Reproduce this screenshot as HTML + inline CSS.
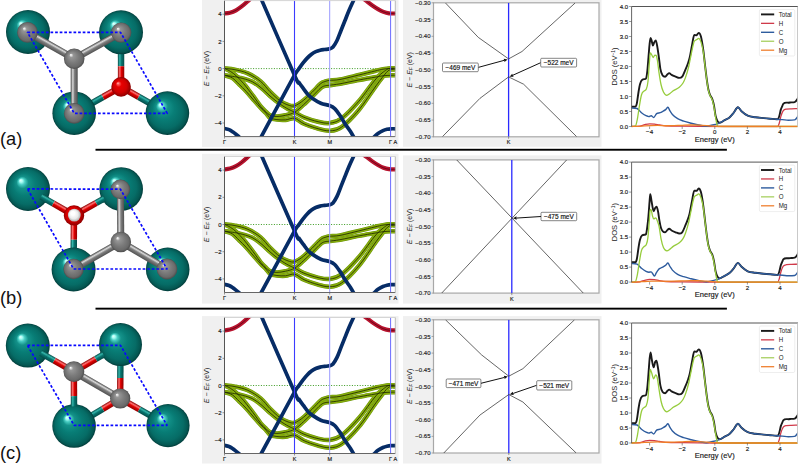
<!DOCTYPE html>
<html><head><meta charset="utf-8"><style>
html,body{margin:0;padding:0;background:#fff;}
svg{display:block;}
text{font-family:"Liberation Sans", sans-serif;}
.t{stroke:#111;stroke-width:0.16px;}
</style></head><body>
<svg width="799" height="465" viewBox="0 0 799 465">
<defs><radialGradient id="sph_teal" cx="0.5" cy="0.5" r="0.5" fx="0.33" fy="0.3"><stop offset="0" stop-color="#eafffc"/><stop offset="0.07" stop-color="#a8fcf4"/><stop offset="0.15" stop-color="#48ccc2"/><stop offset="0.27" stop-color="#14928a"/><stop offset="0.5" stop-color="#087d76"/><stop offset="0.78" stop-color="#066c66"/><stop offset="0.93" stop-color="#045752"/><stop offset="1" stop-color="#023c3a"/></radialGradient><radialGradient id="sph_grey" cx="0.5" cy="0.5" r="0.5" fx="0.33" fy="0.3"><stop offset="0" stop-color="#ffffff"/><stop offset="0.07" stop-color="#e2e2e2"/><stop offset="0.2" stop-color="#969696"/><stop offset="0.55" stop-color="#7c7c7c"/><stop offset="0.85" stop-color="#6a6a6a"/><stop offset="1" stop-color="#4c4c4c"/></radialGradient><radialGradient id="sph_red" cx="0.5" cy="0.5" r="0.5" fx="0.33" fy="0.3"><stop offset="0" stop-color="#ffd0d0"/><stop offset="0.1" stop-color="#ff6060"/><stop offset="0.3" stop-color="#e80000"/><stop offset="0.7" stop-color="#d00000"/><stop offset="1" stop-color="#8a0000"/></radialGradient><radialGradient id="sph_white" cx="0.5" cy="0.5" r="0.5" fx="0.33" fy="0.3"><stop offset="0" stop-color="#ffffff"/><stop offset="0.3" stop-color="#ffffff"/><stop offset="0.7" stop-color="#eaeaea"/><stop offset="1" stop-color="#b0b0b0"/></radialGradient><linearGradient id="bg1" gradientUnits="userSpaceOnUse" x1="117.8" y1="32.31" x2="124.2" y2="32.29"><stop offset="0" stop-color="#024a46"/><stop offset="0.3" stop-color="#34b4aa"/><stop offset="0.55" stop-color="#087670"/><stop offset="1" stop-color="#034c48"/></linearGradient><linearGradient id="bg2" gradientUnits="userSpaceOnUse" x1="117.86" y1="66.16" x2="124.26" y2="66.15"><stop offset="0" stop-color="#8a0000"/><stop offset="0.3" stop-color="#ff7070"/><stop offset="0.55" stop-color="#e00000"/><stop offset="1" stop-color="#900000"/></linearGradient><linearGradient id="bg3" gradientUnits="userSpaceOnUse" x1="119.53" y1="84.11" x2="122.67" y2="89.69"><stop offset="0" stop-color="#8a0000"/><stop offset="0.3" stop-color="#ff7070"/><stop offset="0.55" stop-color="#e00000"/><stop offset="1" stop-color="#900000"/></linearGradient><linearGradient id="bg4" gradientUnits="userSpaceOnUse" x1="101.24" y1="94.37" x2="104.37" y2="99.95"><stop offset="0" stop-color="#024a46"/><stop offset="0.3" stop-color="#34b4aa"/><stop offset="0.55" stop-color="#087670"/><stop offset="1" stop-color="#034c48"/></linearGradient><linearGradient id="bg5" gradientUnits="userSpaceOnUse" x1="122.68" y1="84.11" x2="119.52" y2="89.69"><stop offset="0" stop-color="#8a0000"/><stop offset="0.3" stop-color="#ff7070"/><stop offset="0.55" stop-color="#e00000"/><stop offset="1" stop-color="#900000"/></linearGradient><linearGradient id="bg6" gradientUnits="userSpaceOnUse" x1="140.27" y1="94.07" x2="137.12" y2="99.64"><stop offset="0" stop-color="#024a46"/><stop offset="0.3" stop-color="#34b4aa"/><stop offset="0.55" stop-color="#087670"/><stop offset="1" stop-color="#034c48"/></linearGradient><linearGradient id="bg7" gradientUnits="userSpaceOnUse" x1="29.22" y1="29.35" x2="25.78" y2="35.45"><stop offset="0" stop-color="#454545"/><stop offset="0.3" stop-color="#dadada"/><stop offset="0.55" stop-color="#7e7e7e"/><stop offset="1" stop-color="#505050"/></linearGradient><linearGradient id="bg8" gradientUnits="userSpaceOnUse" x1="72.5" y1="55.74" x2="75.9" y2="61.86"><stop offset="0" stop-color="#454545"/><stop offset="0.3" stop-color="#dadada"/><stop offset="0.55" stop-color="#7e7e7e"/><stop offset="1" stop-color="#505050"/></linearGradient><linearGradient id="bg9" gradientUnits="userSpaceOnUse" x1="70.7" y1="58.8" x2="77.7" y2="58.8"><stop offset="0" stop-color="#454545"/><stop offset="0.3" stop-color="#dadada"/><stop offset="0.55" stop-color="#7e7e7e"/><stop offset="1" stop-color="#505050"/></linearGradient><linearGradient id="bg10" gradientUnits="userSpaceOnUse" x1="29.59" y1="186.22" x2="26.41" y2="191.78"><stop offset="0" stop-color="#024a46"/><stop offset="0.3" stop-color="#34b4aa"/><stop offset="0.55" stop-color="#087670"/><stop offset="1" stop-color="#034c48"/></linearGradient><linearGradient id="bg11" gradientUnits="userSpaceOnUse" x1="54.89" y1="200.74" x2="51.71" y2="206.3"><stop offset="0" stop-color="#8a0000"/><stop offset="0.3" stop-color="#ff7070"/><stop offset="0.55" stop-color="#e00000"/><stop offset="1" stop-color="#900000"/></linearGradient><linearGradient id="bg12" gradientUnits="userSpaceOnUse" x1="72.44" y1="212.61" x2="75.56" y2="218.19"><stop offset="0" stop-color="#8a0000"/><stop offset="0.3" stop-color="#ff7070"/><stop offset="0.55" stop-color="#e00000"/><stop offset="1" stop-color="#900000"/></linearGradient><linearGradient id="bg13" gradientUnits="userSpaceOnUse" x1="94.62" y1="200.2" x2="97.75" y2="205.78"><stop offset="0" stop-color="#024a46"/><stop offset="0.3" stop-color="#34b4aa"/><stop offset="0.55" stop-color="#087670"/><stop offset="1" stop-color="#034c48"/></linearGradient><linearGradient id="bg14" gradientUnits="userSpaceOnUse" x1="70.8" y1="215.38" x2="77.2" y2="215.42"><stop offset="0" stop-color="#8a0000"/><stop offset="0.3" stop-color="#ff7070"/><stop offset="0.55" stop-color="#e00000"/><stop offset="1" stop-color="#900000"/></linearGradient><linearGradient id="bg15" gradientUnits="userSpaceOnUse" x1="70.62" y1="239.72" x2="77.02" y2="239.77"><stop offset="0" stop-color="#024a46"/><stop offset="0.3" stop-color="#34b4aa"/><stop offset="0.55" stop-color="#087670"/><stop offset="1" stop-color="#034c48"/></linearGradient><linearGradient id="bg16" gradientUnits="userSpaceOnUse" x1="42.76" y1="193.78" x2="39.57" y2="199.33"><stop offset="0" stop-color="#024a46"/><stop offset="0.3" stop-color="#34b4aa"/><stop offset="0.55" stop-color="#087670"/><stop offset="1" stop-color="#034c48"/></linearGradient><linearGradient id="bg17" gradientUnits="userSpaceOnUse" x1="102.51" y1="195.78" x2="105.64" y2="201.37"><stop offset="0" stop-color="#024a46"/><stop offset="0.3" stop-color="#34b4aa"/><stop offset="0.55" stop-color="#087670"/><stop offset="1" stop-color="#034c48"/></linearGradient><linearGradient id="bg18" gradientUnits="userSpaceOnUse" x1="116.9" y1="189.43" x2="123.9" y2="189.37"><stop offset="0" stop-color="#454545"/><stop offset="0.3" stop-color="#dadada"/><stop offset="0.55" stop-color="#7e7e7e"/><stop offset="1" stop-color="#505050"/></linearGradient><linearGradient id="bg19" gradientUnits="userSpaceOnUse" x1="119.06" y1="238.96" x2="122.54" y2="245.04"><stop offset="0" stop-color="#454545"/><stop offset="0.3" stop-color="#dadada"/><stop offset="0.55" stop-color="#7e7e7e"/><stop offset="1" stop-color="#505050"/></linearGradient><linearGradient id="bg20" gradientUnits="userSpaceOnUse" x1="122.57" y1="238.98" x2="119.03" y2="245.02"><stop offset="0" stop-color="#454545"/><stop offset="0.3" stop-color="#dadada"/><stop offset="0.55" stop-color="#7e7e7e"/><stop offset="1" stop-color="#505050"/></linearGradient><linearGradient id="bg21" gradientUnits="userSpaceOnUse" x1="75.48" y1="368.92" x2="72.32" y2="374.48"><stop offset="0" stop-color="#8a0000"/><stop offset="0.3" stop-color="#ff7070"/><stop offset="0.55" stop-color="#e00000"/><stop offset="1" stop-color="#900000"/></linearGradient><linearGradient id="bg22" gradientUnits="userSpaceOnUse" x1="55.65" y1="357.69" x2="52.5" y2="363.26"><stop offset="0" stop-color="#024a46"/><stop offset="0.3" stop-color="#34b4aa"/><stop offset="0.55" stop-color="#087670"/><stop offset="1" stop-color="#034c48"/></linearGradient><linearGradient id="bg23" gradientUnits="userSpaceOnUse" x1="72.29" y1="368.93" x2="75.51" y2="374.47"><stop offset="0" stop-color="#8a0000"/><stop offset="0.3" stop-color="#ff7070"/><stop offset="0.55" stop-color="#e00000"/><stop offset="1" stop-color="#900000"/></linearGradient><linearGradient id="bg24" gradientUnits="userSpaceOnUse" x1="94.19" y1="356.2" x2="97.41" y2="361.73"><stop offset="0" stop-color="#024a46"/><stop offset="0.3" stop-color="#34b4aa"/><stop offset="0.55" stop-color="#087670"/><stop offset="1" stop-color="#034c48"/></linearGradient><linearGradient id="bg25" gradientUnits="userSpaceOnUse" x1="70.7" y1="371.71" x2="77.1" y2="371.69"><stop offset="0" stop-color="#8a0000"/><stop offset="0.3" stop-color="#ff7070"/><stop offset="0.55" stop-color="#e00000"/><stop offset="1" stop-color="#900000"/></linearGradient><linearGradient id="bg26" gradientUnits="userSpaceOnUse" x1="70.79" y1="396.15" x2="77.19" y2="396.12"><stop offset="0" stop-color="#024a46"/><stop offset="0.3" stop-color="#34b4aa"/><stop offset="0.55" stop-color="#087670"/><stop offset="1" stop-color="#034c48"/></linearGradient><linearGradient id="bg27" gradientUnits="userSpaceOnUse" x1="117" y1="398.48" x2="123.4" y2="398.52"><stop offset="0" stop-color="#8a0000"/><stop offset="0.3" stop-color="#ff7070"/><stop offset="0.55" stop-color="#e00000"/><stop offset="1" stop-color="#900000"/></linearGradient><linearGradient id="bg28" gradientUnits="userSpaceOnUse" x1="117.11" y1="378" x2="123.51" y2="378.04"><stop offset="0" stop-color="#024a46"/><stop offset="0.3" stop-color="#34b4aa"/><stop offset="0.55" stop-color="#087670"/><stop offset="1" stop-color="#034c48"/></linearGradient><linearGradient id="bg29" gradientUnits="userSpaceOnUse" x1="118.56" y1="395.75" x2="121.84" y2="401.25"><stop offset="0" stop-color="#8a0000"/><stop offset="0.3" stop-color="#ff7070"/><stop offset="0.55" stop-color="#e00000"/><stop offset="1" stop-color="#900000"/></linearGradient><linearGradient id="bg30" gradientUnits="userSpaceOnUse" x1="101.04" y1="406.2" x2="104.32" y2="411.7"><stop offset="0" stop-color="#024a46"/><stop offset="0.3" stop-color="#34b4aa"/><stop offset="0.55" stop-color="#087670"/><stop offset="1" stop-color="#034c48"/></linearGradient><linearGradient id="bg31" gradientUnits="userSpaceOnUse" x1="121.78" y1="395.72" x2="118.62" y2="401.28"><stop offset="0" stop-color="#8a0000"/><stop offset="0.3" stop-color="#ff7070"/><stop offset="0.55" stop-color="#e00000"/><stop offset="1" stop-color="#900000"/></linearGradient><linearGradient id="bg32" gradientUnits="userSpaceOnUse" x1="140.9" y1="406.56" x2="137.74" y2="412.12"><stop offset="0" stop-color="#024a46"/><stop offset="0.3" stop-color="#34b4aa"/><stop offset="0.55" stop-color="#087670"/><stop offset="1" stop-color="#034c48"/></linearGradient><linearGradient id="bg33" gradientUnits="userSpaceOnUse" x1="42.47" y1="350.23" x2="39.32" y2="355.8"><stop offset="0" stop-color="#024a46"/><stop offset="0.3" stop-color="#34b4aa"/><stop offset="0.55" stop-color="#087670"/><stop offset="1" stop-color="#034c48"/></linearGradient><linearGradient id="bg34" gradientUnits="userSpaceOnUse" x1="101.79" y1="351.78" x2="105.01" y2="357.31"><stop offset="0" stop-color="#024a46"/><stop offset="0.3" stop-color="#34b4aa"/><stop offset="0.55" stop-color="#087670"/><stop offset="1" stop-color="#034c48"/></linearGradient><linearGradient id="bg35" gradientUnits="userSpaceOnUse" x1="70.83" y1="406.39" x2="77.23" y2="406.37"><stop offset="0" stop-color="#024a46"/><stop offset="0.3" stop-color="#34b4aa"/><stop offset="0.55" stop-color="#087670"/><stop offset="1" stop-color="#034c48"/></linearGradient><linearGradient id="bg36" gradientUnits="userSpaceOnUse" x1="75.65" y1="368.67" x2="72.15" y2="374.73"><stop offset="0" stop-color="#454545"/><stop offset="0.3" stop-color="#dadada"/><stop offset="0.55" stop-color="#7e7e7e"/><stop offset="1" stop-color="#505050"/></linearGradient><clipPath id="clip37"><rect x="224.5" y="0.6" width="170.8" height="136"/></clipPath><clipPath id="clip38"><rect x="224.5" y="156.5" width="170.8" height="136"/></clipPath><clipPath id="clip39"><rect x="224.5" y="317.5" width="170.8" height="136"/></clipPath><clipPath id="clip40"><rect x="433.5" y="2.8" width="165.5" height="134"/></clipPath><clipPath id="clip41"><rect x="433.5" y="159.9" width="165.5" height="133.2"/></clipPath><clipPath id="clip42"><rect x="433.5" y="319.8" width="165.5" height="133.2"/></clipPath><clipPath id="clip43"><rect x="631.6" y="6.5" width="165.9" height="121"/></clipPath><clipPath id="clip44"><rect x="631.6" y="162.1" width="165.9" height="121"/></clipPath><clipPath id="clip45"><rect x="631.6" y="323" width="165.9" height="121"/></clipPath></defs>
<rect width="799" height="465" fill="#fff"/>
<polygon points="117.8,32.31 117.86,66.16 124.26,66.15 124.2,32.29" fill="url(#bg1)"/>
<polygon points="117.86,66.16 117.9,86.91 124.3,86.89 124.26,66.15" fill="url(#bg2)"/>
<polygon points="119.53,84.11 101.24,94.37 104.37,99.95 122.67,89.69" fill="url(#bg3)"/>
<polygon points="101.24,94.37 72.63,110.41 75.77,115.99 104.37,99.95" fill="url(#bg4)"/>
<polygon points="122.68,84.11 140.27,94.07 137.12,99.64 119.52,89.69" fill="url(#bg5)"/>
<polygon points="140.27,94.07 168.98,110.31 165.82,115.89 137.12,99.64" fill="url(#bg6)"/>
<circle cx="28" cy="32" r="22" fill="url(#sph_teal)"/>
<circle cx="121" cy="32.3" r="22" fill="url(#sph_teal)"/>
<circle cx="74.2" cy="113.2" r="21.8" fill="url(#sph_teal)"/>
<circle cx="167.4" cy="113.1" r="21.8" fill="url(#sph_teal)"/>
<polygon points="29.22,29.35 75.92,55.75 72.48,61.85 25.78,35.45" fill="url(#bg7)"/>
<polygon points="72.5,55.74 119.5,29.54 122.9,35.66 75.9,61.86" fill="url(#bg8)"/>
<polygon points="70.7,58.8 70.7,113.4 77.7,113.4 77.7,58.8" fill="url(#bg9)"/>
<circle cx="27.5" cy="32.4" r="10.4" fill="url(#sph_grey)"/>
<circle cx="121.2" cy="32.6" r="10.2" fill="url(#sph_grey)"/>
<circle cx="74.2" cy="113.4" r="10.3" fill="url(#sph_grey)"/>
<circle cx="74.2" cy="58.8" r="10.3" fill="url(#sph_grey)"/>
<circle cx="121.1" cy="86.9" r="9.8" fill="url(#sph_red)"/>
<path d="M27.5,32.4 L120.5,32.3 L167.2,113.3 L74.2,113.3Z" fill="none" stroke="#0808ff" stroke-width="1.7" stroke-dasharray="2.7 1.9" stroke-linejoin="round"/>
<text x="0" y="144.8" font-size="18.3" fill="#111">(a)</text>
<polygon points="29.59,186.22 54.89,200.74 51.71,206.3 26.41,191.78" fill="url(#bg10)"/>
<polygon points="54.89,200.74 75.59,212.62 72.41,218.18 51.71,206.3" fill="url(#bg11)"/>
<polygon points="72.44,212.61 94.62,200.2 97.75,205.78 75.56,218.19" fill="url(#bg12)"/>
<polygon points="94.62,200.2 119.64,186.21 122.76,191.79 97.75,205.78" fill="url(#bg13)"/>
<polygon points="70.8,215.38 70.62,239.72 77.02,239.77 77.2,215.42" fill="url(#bg14)"/>
<polygon points="70.62,239.72 70.4,269.48 76.8,269.52 77.02,239.77" fill="url(#bg15)"/>
<circle cx="28" cy="189" r="22" fill="url(#sph_teal)"/>
<circle cx="121.2" cy="189" r="21.8" fill="url(#sph_teal)"/>
<circle cx="73.6" cy="269.5" r="22" fill="url(#sph_teal)"/>
<circle cx="167.7" cy="269.4" r="21.8" fill="url(#sph_teal)"/>
<polygon points="42.76,193.78 49.11,197.42 45.92,202.98 39.57,199.33" fill="url(#bg16)"/>
<polygon points="102.51,195.78 100.18,197.09 103.3,202.68 105.64,201.37" fill="url(#bg17)"/>
<polygon points="116.9,189.43 117.3,242.03 124.3,241.97 123.9,189.37" fill="url(#bg18)"/>
<polygon points="119.06,238.96 71.86,265.96 75.34,272.04 122.54,245.04" fill="url(#bg19)"/>
<polygon points="122.57,238.98 168.77,265.98 165.23,272.02 119.03,245.02" fill="url(#bg20)"/>
<circle cx="120.4" cy="189.4" r="9.8" fill="url(#sph_grey)"/>
<circle cx="73.6" cy="269" r="10.2" fill="url(#sph_grey)"/>
<circle cx="167" cy="269" r="10.4" fill="url(#sph_grey)"/>
<circle cx="120.8" cy="242" r="10.3" fill="url(#sph_grey)"/>
<circle cx="74" cy="215.4" r="10.2" fill="url(#sph_red)"/>
<circle cx="74.3" cy="215.1" r="6.4" fill="url(#sph_white)"/>
<path d="M27.5,188.9 L120.4,189.2 L167,269 L73.6,269Z" fill="none" stroke="#0808ff" stroke-width="1.7" stroke-dasharray="2.7 1.9" stroke-linejoin="round"/>
<text x="0" y="304" font-size="18.3" fill="#111">(b)</text>
<polygon points="75.48,368.92 55.65,357.69 52.5,363.26 72.32,374.48" fill="url(#bg21)"/>
<polygon points="55.65,357.69 29.38,342.82 26.22,348.38 52.5,363.26" fill="url(#bg22)"/>
<polygon points="72.29,368.93 94.19,356.2 97.41,361.73 75.51,374.47" fill="url(#bg23)"/>
<polygon points="94.19,356.2 118.89,341.83 122.11,347.37 97.41,361.73" fill="url(#bg24)"/>
<polygon points="70.7,371.71 70.79,396.15 77.19,396.12 77.1,371.69" fill="url(#bg25)"/>
<polygon points="70.79,396.15 70.9,426.01 77.3,425.99 77.19,396.12" fill="url(#bg26)"/>
<polygon points="117,398.48 117.11,378 123.51,378.04 123.4,398.52" fill="url(#bg27)"/>
<polygon points="117.11,378 117.3,344.58 123.7,344.62 123.51,378.04" fill="url(#bg28)"/>
<polygon points="118.56,395.75 101.04,406.2 104.32,411.7 121.84,401.25" fill="url(#bg29)"/>
<polygon points="101.04,406.2 72.46,423.25 75.74,428.75 104.32,411.7" fill="url(#bg30)"/>
<polygon points="121.78,395.72 140.9,406.56 137.74,412.12 118.62,401.28" fill="url(#bg31)"/>
<polygon points="140.9,406.56 169.58,422.82 166.42,428.38 137.74,412.12" fill="url(#bg32)"/>
<circle cx="27.8" cy="345.6" r="22" fill="url(#sph_teal)"/>
<circle cx="120.5" cy="344.6" r="21.5" fill="url(#sph_teal)"/>
<circle cx="74.1" cy="426" r="21.8" fill="url(#sph_teal)"/>
<circle cx="168" cy="425.6" r="21.6" fill="url(#sph_teal)"/>
<polygon points="42.47,350.23 48.52,353.65 45.37,359.22 39.32,355.8" fill="url(#bg33)"/>
<polygon points="101.79,351.78 99.87,352.89 103.09,358.43 105.01,357.31" fill="url(#bg34)"/>
<polygon points="70.83,406.39 70.82,403.71 77.22,403.69 77.23,406.37" fill="url(#bg35)"/>
<polygon points="75.65,368.67 121.95,395.47 118.45,401.53 72.15,374.73" fill="url(#bg36)"/>
<circle cx="73.9" cy="371.7" r="10.4" fill="url(#sph_grey)"/>
<circle cx="120.2" cy="398.5" r="10.1" fill="url(#sph_grey)"/>
<path d="M27.5,345.4 L120.5,345.4 L167,425.3 L74.1,425.3Z" fill="none" stroke="#0808ff" stroke-width="1.7" stroke-dasharray="2.7 1.9" stroke-linejoin="round"/>
<text x="0" y="459.2" font-size="18.3" fill="#111">(c)</text>
<rect x="202" y="0" width="196.5" height="146.9" fill="#f0f0f0"/>
<rect x="224.5" y="0.6" width="170.8" height="136" fill="#fff"/>
<g clip-path="url(#clip37)">
<line x1="224.5" y1="68.6" x2="395.3" y2="68.6" stroke="#3a9a20" stroke-width="1" stroke-dasharray="1 1.6"/>
<path d="M222,13.5C222.42,13.5 223.17,13.63 224.5,13.5C225.83,13.37 228.08,13.23 230,12.7C231.92,12.17 234,11.38 236,10.3C238,9.22 239.95,7.82 242,6.2C244.05,4.58 246.97,1.8 248.3,0.6C249.63,-0.6 249.72,-0.73 250,-1" fill="none" stroke="#b8142f" stroke-width="4.2" stroke-linecap="round"/>
<path d="M222,13.5C222.42,13.5 223.17,13.63 224.5,13.5C225.83,13.37 228.08,13.23 230,12.7C231.92,12.17 234,11.38 236,10.3C238,9.22 239.95,7.82 242,6.2C244.05,4.58 246.97,1.8 248.3,0.6C249.63,-0.6 249.72,-0.73 250,-1" fill="none" stroke="#500010" stroke-width="0.7"/>
<path d="M364,-1C364.33,-0.73 364.67,-0.43 366,0.6C367.33,1.63 370,3.78 372,5.2C374,6.62 376.08,7.98 378,9.1C379.92,10.22 381.67,11.2 383.5,11.9C385.33,12.6 386.75,13.03 389,13.3C391.25,13.57 395.67,13.47 397,13.5" fill="none" stroke="#b8142f" stroke-width="4.2" stroke-linecap="round"/>
<path d="M364,-1C364.33,-0.73 364.67,-0.43 366,0.6C367.33,1.63 370,3.78 372,5.2C374,6.62 376.08,7.98 378,9.1C379.92,10.22 381.67,11.2 383.5,11.9C385.33,12.6 386.75,13.03 389,13.3C391.25,13.57 395.67,13.47 397,13.5" fill="none" stroke="#500010" stroke-width="0.7"/>
<path d="M224.5,68.4C226.23,68.62 231.02,68.87 234.9,69.7C238.78,70.53 243.5,71.43 247.8,73.4C252.1,75.37 257,78.45 260.7,81.5C264.4,84.55 266.78,88.48 270,91.7C273.22,94.92 277,98.58 280,100.8C283,103.02 285.57,104.17 288,105C290.43,105.83 292,106.58 294.6,105.8C297.2,105.02 300.67,102.57 303.6,100.3C306.53,98.03 309.33,94.98 312.2,92.2C315.07,89.42 318.65,85.38 320.8,83.6C322.95,81.82 323.63,82.03 325.1,81.5C326.57,80.97 327.12,80.73 329.6,80.4C332.08,80.07 335.13,80.4 340,79.5C344.87,78.6 352.97,76.42 358.8,75C364.63,73.58 370.97,71.97 375,71C379.03,70.03 380.38,69.63 383,69.2C385.62,68.77 388.65,68.53 390.7,68.4C392.75,68.27 394.53,68.4 395.3,68.4" fill="none" stroke="#6b940c" stroke-width="4.5"/>
<path d="M224.5,75.3C225.52,75.43 228.15,75.72 230.6,76.1C233.05,76.48 235.62,76.68 239.2,77.6C242.78,78.52 248.3,79.78 252.1,81.6C255.9,83.42 259.02,86.1 262,88.5C264.98,90.9 267,93.42 270,96C273,98.58 277,101.83 280,104C283,106.17 285.57,107.63 288,109C290.43,110.37 291.93,110.82 294.6,112.2C297.27,113.58 300.1,115.72 304,117.3C307.9,118.88 313.7,120.73 318,121.7C322.3,122.67 325.87,123.63 329.8,123.1C333.73,122.57 336.77,122.13 341.6,118.5C346.43,114.87 353.07,107.9 358.8,101.3C364.53,94.7 371.4,84.15 376,78.9C380.6,73.65 383.95,71.55 386.4,69.8C388.85,68.05 389.22,68.63 390.7,68.4C392.18,68.17 394.53,68.4 395.3,68.4" fill="none" stroke="#6b940c" stroke-width="4.5"/>
<path d="M224.5,68.4C225.52,68.92 228.58,70.2 230.6,71.5C232.62,72.8 234.45,74.2 236.6,76.2C238.75,78.2 241.2,80.82 243.5,83.5C245.8,86.18 248.42,89.72 250.4,92.3C252.38,94.88 253.67,96.63 255.4,99C257.13,101.37 259.02,104.35 260.8,106.5C262.58,108.65 264.57,110.45 266.1,111.9C267.63,113.35 268.2,114.43 270,115.2C271.8,115.97 274.32,116.48 276.9,116.5C279.48,116.52 282.55,116 285.5,115.3C288.45,114.6 291.58,114.07 294.6,112.3C297.62,110.53 300.67,107.33 303.6,104.7C306.53,102.07 309.33,99.3 312.2,96.5C315.07,93.7 318.65,89.68 320.8,87.9C322.95,86.12 323.63,86.25 325.1,85.8C326.57,85.35 327.12,85.53 329.6,85.2C332.08,84.87 335.13,84.67 340,83.8C344.87,82.93 352.97,81.1 358.8,80C364.63,78.9 370.97,77.9 375,77.2C379.03,76.5 380.38,76.12 383,75.8C385.62,75.48 388.65,75.38 390.7,75.3C392.75,75.22 394.53,75.3 395.3,75.3" fill="none" stroke="#6b940c" stroke-width="4.5"/>
<path d="M224.5,75.3C225.8,75.73 229.85,76.38 232.3,77.9C234.75,79.42 236.9,82.17 239.2,84.4C241.5,86.63 243.67,88.67 246.1,91.3C248.53,93.93 251.35,97.42 253.8,100.2C256.25,102.98 258.75,105.82 260.8,108C262.85,110.18 264.57,111.67 266.1,113.3C267.63,114.93 268.2,116.75 270,117.8C271.8,118.85 274.32,119.25 276.9,119.6C279.48,119.95 282.55,120.12 285.5,119.9C288.45,119.68 291.52,117.65 294.6,118.3C297.68,118.95 300.1,122.07 304,123.8C307.9,125.53 313.7,127.53 318,128.7C322.3,129.87 325.87,131.07 329.8,130.8C333.73,130.53 336.77,130.57 341.6,127.1C346.43,123.63 353.07,116.88 358.8,110C364.53,103.12 371.4,92.05 376,85.8C380.6,79.55 383.95,75.2 386.4,72.5C388.85,69.8 389.22,70.08 390.7,69.6C392.18,69.12 394.53,69.6 395.3,69.6" fill="none" stroke="#6b940c" stroke-width="4.5"/>
<path d="M224.5,68.4C226.23,68.62 231.02,68.87 234.9,69.7C238.78,70.53 243.5,71.43 247.8,73.4C252.1,75.37 257,78.45 260.7,81.5C264.4,84.55 266.78,88.48 270,91.7C273.22,94.92 277,98.58 280,100.8C283,103.02 285.57,104.17 288,105C290.43,105.83 292,106.58 294.6,105.8C297.2,105.02 300.67,102.57 303.6,100.3C306.53,98.03 309.33,94.98 312.2,92.2C315.07,89.42 318.65,85.38 320.8,83.6C322.95,81.82 323.63,82.03 325.1,81.5C326.57,80.97 327.12,80.73 329.6,80.4C332.08,80.07 335.13,80.4 340,79.5C344.87,78.6 352.97,76.42 358.8,75C364.63,73.58 370.97,71.97 375,71C379.03,70.03 380.38,69.63 383,69.2C385.62,68.77 388.65,68.53 390.7,68.4C392.75,68.27 394.53,68.4 395.3,68.4" fill="none" stroke="#88ae0c" stroke-width="3.5"/>
<path d="M224.5,75.3C225.52,75.43 228.15,75.72 230.6,76.1C233.05,76.48 235.62,76.68 239.2,77.6C242.78,78.52 248.3,79.78 252.1,81.6C255.9,83.42 259.02,86.1 262,88.5C264.98,90.9 267,93.42 270,96C273,98.58 277,101.83 280,104C283,106.17 285.57,107.63 288,109C290.43,110.37 291.93,110.82 294.6,112.2C297.27,113.58 300.1,115.72 304,117.3C307.9,118.88 313.7,120.73 318,121.7C322.3,122.67 325.87,123.63 329.8,123.1C333.73,122.57 336.77,122.13 341.6,118.5C346.43,114.87 353.07,107.9 358.8,101.3C364.53,94.7 371.4,84.15 376,78.9C380.6,73.65 383.95,71.55 386.4,69.8C388.85,68.05 389.22,68.63 390.7,68.4C392.18,68.17 394.53,68.4 395.3,68.4" fill="none" stroke="#88ae0c" stroke-width="3.5"/>
<path d="M224.5,68.4C225.52,68.92 228.58,70.2 230.6,71.5C232.62,72.8 234.45,74.2 236.6,76.2C238.75,78.2 241.2,80.82 243.5,83.5C245.8,86.18 248.42,89.72 250.4,92.3C252.38,94.88 253.67,96.63 255.4,99C257.13,101.37 259.02,104.35 260.8,106.5C262.58,108.65 264.57,110.45 266.1,111.9C267.63,113.35 268.2,114.43 270,115.2C271.8,115.97 274.32,116.48 276.9,116.5C279.48,116.52 282.55,116 285.5,115.3C288.45,114.6 291.58,114.07 294.6,112.3C297.62,110.53 300.67,107.33 303.6,104.7C306.53,102.07 309.33,99.3 312.2,96.5C315.07,93.7 318.65,89.68 320.8,87.9C322.95,86.12 323.63,86.25 325.1,85.8C326.57,85.35 327.12,85.53 329.6,85.2C332.08,84.87 335.13,84.67 340,83.8C344.87,82.93 352.97,81.1 358.8,80C364.63,78.9 370.97,77.9 375,77.2C379.03,76.5 380.38,76.12 383,75.8C385.62,75.48 388.65,75.38 390.7,75.3C392.75,75.22 394.53,75.3 395.3,75.3" fill="none" stroke="#88ae0c" stroke-width="3.5"/>
<path d="M224.5,75.3C225.8,75.73 229.85,76.38 232.3,77.9C234.75,79.42 236.9,82.17 239.2,84.4C241.5,86.63 243.67,88.67 246.1,91.3C248.53,93.93 251.35,97.42 253.8,100.2C256.25,102.98 258.75,105.82 260.8,108C262.85,110.18 264.57,111.67 266.1,113.3C267.63,114.93 268.2,116.75 270,117.8C271.8,118.85 274.32,119.25 276.9,119.6C279.48,119.95 282.55,120.12 285.5,119.9C288.45,119.68 291.52,117.65 294.6,118.3C297.68,118.95 300.1,122.07 304,123.8C307.9,125.53 313.7,127.53 318,128.7C322.3,129.87 325.87,131.07 329.8,130.8C333.73,130.53 336.77,130.57 341.6,127.1C346.43,123.63 353.07,116.88 358.8,110C364.53,103.12 371.4,92.05 376,85.8C380.6,79.55 383.95,75.2 386.4,72.5C388.85,69.8 389.22,70.08 390.7,69.6C392.18,69.12 394.53,69.6 395.3,69.6" fill="none" stroke="#88ae0c" stroke-width="3.5"/>
<path d="M224.5,68.4C226.23,68.62 231.02,68.87 234.9,69.7C238.78,70.53 243.5,71.43 247.8,73.4C252.1,75.37 257,78.45 260.7,81.5C264.4,84.55 266.78,88.48 270,91.7C273.22,94.92 277,98.58 280,100.8C283,103.02 285.57,104.17 288,105C290.43,105.83 292,106.58 294.6,105.8C297.2,105.02 300.67,102.57 303.6,100.3C306.53,98.03 309.33,94.98 312.2,92.2C315.07,89.42 318.65,85.38 320.8,83.6C322.95,81.82 323.63,82.03 325.1,81.5C326.57,80.97 327.12,80.73 329.6,80.4C332.08,80.07 335.13,80.4 340,79.5C344.87,78.6 352.97,76.42 358.8,75C364.63,73.58 370.97,71.97 375,71C379.03,70.03 380.38,69.63 383,69.2C385.62,68.77 388.65,68.53 390.7,68.4C392.75,68.27 394.53,68.4 395.3,68.4" fill="none" stroke="#202a00" stroke-width="0.85"/>
<path d="M224.5,75.3C225.52,75.43 228.15,75.72 230.6,76.1C233.05,76.48 235.62,76.68 239.2,77.6C242.78,78.52 248.3,79.78 252.1,81.6C255.9,83.42 259.02,86.1 262,88.5C264.98,90.9 267,93.42 270,96C273,98.58 277,101.83 280,104C283,106.17 285.57,107.63 288,109C290.43,110.37 291.93,110.82 294.6,112.2C297.27,113.58 300.1,115.72 304,117.3C307.9,118.88 313.7,120.73 318,121.7C322.3,122.67 325.87,123.63 329.8,123.1C333.73,122.57 336.77,122.13 341.6,118.5C346.43,114.87 353.07,107.9 358.8,101.3C364.53,94.7 371.4,84.15 376,78.9C380.6,73.65 383.95,71.55 386.4,69.8C388.85,68.05 389.22,68.63 390.7,68.4C392.18,68.17 394.53,68.4 395.3,68.4" fill="none" stroke="#202a00" stroke-width="0.85"/>
<path d="M224.5,68.4C225.52,68.92 228.58,70.2 230.6,71.5C232.62,72.8 234.45,74.2 236.6,76.2C238.75,78.2 241.2,80.82 243.5,83.5C245.8,86.18 248.42,89.72 250.4,92.3C252.38,94.88 253.67,96.63 255.4,99C257.13,101.37 259.02,104.35 260.8,106.5C262.58,108.65 264.57,110.45 266.1,111.9C267.63,113.35 268.2,114.43 270,115.2C271.8,115.97 274.32,116.48 276.9,116.5C279.48,116.52 282.55,116 285.5,115.3C288.45,114.6 291.58,114.07 294.6,112.3C297.62,110.53 300.67,107.33 303.6,104.7C306.53,102.07 309.33,99.3 312.2,96.5C315.07,93.7 318.65,89.68 320.8,87.9C322.95,86.12 323.63,86.25 325.1,85.8C326.57,85.35 327.12,85.53 329.6,85.2C332.08,84.87 335.13,84.67 340,83.8C344.87,82.93 352.97,81.1 358.8,80C364.63,78.9 370.97,77.9 375,77.2C379.03,76.5 380.38,76.12 383,75.8C385.62,75.48 388.65,75.38 390.7,75.3C392.75,75.22 394.53,75.3 395.3,75.3" fill="none" stroke="#202a00" stroke-width="0.85"/>
<path d="M224.5,75.3C225.8,75.73 229.85,76.38 232.3,77.9C234.75,79.42 236.9,82.17 239.2,84.4C241.5,86.63 243.67,88.67 246.1,91.3C248.53,93.93 251.35,97.42 253.8,100.2C256.25,102.98 258.75,105.82 260.8,108C262.85,110.18 264.57,111.67 266.1,113.3C267.63,114.93 268.2,116.75 270,117.8C271.8,118.85 274.32,119.25 276.9,119.6C279.48,119.95 282.55,120.12 285.5,119.9C288.45,119.68 291.52,117.65 294.6,118.3C297.68,118.95 300.1,122.07 304,123.8C307.9,125.53 313.7,127.53 318,128.7C322.3,129.87 325.87,131.07 329.8,130.8C333.73,130.53 336.77,130.57 341.6,127.1C346.43,123.63 353.07,116.88 358.8,110C364.53,103.12 371.4,92.05 376,85.8C380.6,79.55 383.95,75.2 386.4,72.5C388.85,69.8 389.22,70.08 390.7,69.6C392.18,69.12 394.53,69.6 395.3,69.6" fill="none" stroke="#202a00" stroke-width="0.85"/>
<path d="M260.4,-3C260.65,-2.4 256.22,-12.43 261.9,0.6C267.58,13.63 288.32,61.55 294.5,75.2C300.68,88.85 297.48,80.23 299,82.5C300.52,84.77 302.12,86.8 303.6,88.8C305.08,90.8 306.47,92.93 307.9,94.5C309.33,96.07 310.05,96.73 312.2,98.2C314.35,99.67 317.93,102.07 320.8,103.3C323.67,104.53 327.08,104.72 329.4,105.6C331.72,106.48 332.93,106.95 334.7,108.6C336.47,110.25 338.28,112.98 340,115.5C341.72,118.02 343.25,121.03 345,123.7C346.75,126.37 348.92,129.03 350.5,131.5C352.08,133.97 353.83,137.33 354.5,138.5" fill="none" stroke="#062c66" stroke-width="3.7"/>
<path d="M260.3,138.5C260.47,138.18 258.35,142.07 261.3,136.6C264.25,131.13 272.47,115.93 278,105.7C283.53,95.47 291.07,81.28 294.5,75.2C297.93,69.12 297.2,71.2 298.6,69.2C300,67.2 301.47,65.05 302.9,63.2C304.33,61.35 305.77,59.6 307.2,58.1C308.63,56.6 310.07,55.28 311.5,54.2C312.93,53.12 314.37,52.27 315.8,51.6C317.23,50.93 318.67,50.55 320.1,50.2C321.53,49.85 322.85,49.72 324.4,49.5C325.95,49.28 327.97,49.32 329.4,48.9C330.83,48.48 331.73,48.4 333,47C334.27,45.6 335.67,43.25 337,40.5C338.33,37.75 339.67,33.83 341,30.5C342.33,27.17 343.67,23.83 345,20.5C346.33,17.17 347.58,13.82 349,10.5C350.42,7.18 352.58,2.68 353.5,0.6C354.42,-1.48 354.33,-1.57 354.5,-2" fill="none" stroke="#062c66" stroke-width="3.7"/>
<path d="M222,128C222.42,128.08 223.33,128.23 224.5,128.5C225.67,128.77 227.58,129.02 229,129.6C230.42,130.18 231.75,131.15 233,132C234.25,132.85 235.5,133.9 236.5,134.7C237.5,135.5 238.42,136.25 239,136.8C239.58,137.35 239.83,137.8 240,138" fill="none" stroke="#062c66" stroke-width="3.7"/>
<path d="M373,138C373.25,137.77 373.67,137.37 374.5,136.6C375.33,135.83 376.58,134.4 378,133.4C379.42,132.4 381.5,131.28 383,130.6C384.5,129.92 385.72,129.6 387,129.3C388.28,129 389.03,128.88 390.7,128.8C392.37,128.72 395.95,128.8 397,128.8" fill="none" stroke="#062c66" stroke-width="3.7"/>
<line x1="294.5" y1="0.6" x2="294.5" y2="136.6" stroke="#3b3bff" stroke-width="1.1"/>
<line x1="329.7" y1="0.6" x2="329.7" y2="136.6" stroke="#9a9aff" stroke-width="1"/>
<line x1="390.6" y1="0.6" x2="390.6" y2="136.6" stroke="#6a6aff" stroke-width="1"/>
</g>
<line x1="224.5" y1="0.6" x2="224.5" y2="136.6" stroke="#555" stroke-width="1"/>
<line x1="224.5" y1="136.6" x2="395.3" y2="136.6" stroke="#666" stroke-width="1"/>
<line x1="395.3" y1="0.6" x2="395.3" y2="136.6" stroke="#aaa" stroke-width="0.8"/>
<line x1="224.5" y1="0.6" x2="395.3" y2="0.6" stroke="#ccc" stroke-width="0.8"/>
<line x1="222.5" y1="14.2" x2="224.5" y2="14.2" stroke="#555" stroke-width="0.6"/>
<text class="t" x="221.5" y="16.3" font-size="6" text-anchor="end" fill="#222" >4</text>
<line x1="222.5" y1="41.4" x2="224.5" y2="41.4" stroke="#555" stroke-width="0.6"/>
<text class="t" x="221.5" y="43.5" font-size="6" text-anchor="end" fill="#222" >2</text>
<line x1="222.5" y1="68.6" x2="224.5" y2="68.6" stroke="#555" stroke-width="0.6"/>
<text class="t" x="221.5" y="70.7" font-size="6" text-anchor="end" fill="#222" >0</text>
<line x1="222.5" y1="95.8" x2="224.5" y2="95.8" stroke="#555" stroke-width="0.6"/>
<text class="t" x="221.5" y="97.9" font-size="6" text-anchor="end" fill="#222" >&#8722;2</text>
<line x1="222.5" y1="123" x2="224.5" y2="123" stroke="#555" stroke-width="0.6"/>
<text class="t" x="221.5" y="125.1" font-size="6" text-anchor="end" fill="#222" >&#8722;4</text>
<line x1="224.5" y1="136.6" x2="224.5" y2="138.6" stroke="#555" stroke-width="0.6"/>
<text class="t" x="224.5" y="144.1" font-size="5.5" text-anchor="middle" fill="#222" >&#915;</text>
<line x1="294.5" y1="136.6" x2="294.5" y2="138.6" stroke="#555" stroke-width="0.6"/>
<text class="t" x="294.5" y="144.1" font-size="5.5" text-anchor="middle" fill="#222" >K</text>
<line x1="329.7" y1="136.6" x2="329.7" y2="138.6" stroke="#555" stroke-width="0.6"/>
<text class="t" x="329.7" y="144.1" font-size="5.5" text-anchor="middle" fill="#222" >M</text>
<text class="t" x="390.6" y="144.1" font-size="5.5" text-anchor="middle" fill="#222" >&#915;</text>
<text class="t" x="395.3" y="144.1" font-size="5.5" text-anchor="middle" fill="#222" >A</text>
<text transform="translate(208.6,68.6) rotate(-90)" font-size="7" text-anchor="middle" fill="#222"><tspan font-style="italic">E</tspan> &#8722; <tspan font-style="italic">E</tspan><tspan font-size="4.8" dy="1.5" font-style="italic">F</tspan><tspan dy="-1.5"> (eV)</tspan></text>
<rect x="202" y="153.8" width="196.5" height="149.8" fill="#f0f0f0"/>
<rect x="224.5" y="156.5" width="170.8" height="136" fill="#fff"/>
<g clip-path="url(#clip38)">
<line x1="224.5" y1="224.5" x2="395.3" y2="224.5" stroke="#3a9a20" stroke-width="1" stroke-dasharray="1 1.6"/>
<path d="M222,169.4C222.42,169.4 223.17,169.53 224.5,169.4C225.83,169.27 228.08,169.13 230,168.6C231.92,168.07 234,167.28 236,166.2C238,165.12 239.95,163.72 242,162.1C244.05,160.48 246.97,157.7 248.3,156.5C249.63,155.3 249.72,155.17 250,154.9" fill="none" stroke="#b8142f" stroke-width="4.2" stroke-linecap="round"/>
<path d="M222,169.4C222.42,169.4 223.17,169.53 224.5,169.4C225.83,169.27 228.08,169.13 230,168.6C231.92,168.07 234,167.28 236,166.2C238,165.12 239.95,163.72 242,162.1C244.05,160.48 246.97,157.7 248.3,156.5C249.63,155.3 249.72,155.17 250,154.9" fill="none" stroke="#500010" stroke-width="0.7"/>
<path d="M364,154.9C364.33,155.17 364.67,155.47 366,156.5C367.33,157.53 370,159.68 372,161.1C374,162.52 376.08,163.88 378,165C379.92,166.12 381.67,167.1 383.5,167.8C385.33,168.5 386.75,168.93 389,169.2C391.25,169.47 395.67,169.37 397,169.4" fill="none" stroke="#b8142f" stroke-width="4.2" stroke-linecap="round"/>
<path d="M364,154.9C364.33,155.17 364.67,155.47 366,156.5C367.33,157.53 370,159.68 372,161.1C374,162.52 376.08,163.88 378,165C379.92,166.12 381.67,167.1 383.5,167.8C385.33,168.5 386.75,168.93 389,169.2C391.25,169.47 395.67,169.37 397,169.4" fill="none" stroke="#500010" stroke-width="0.7"/>
<path d="M224.5,224.3C226.23,224.52 231.02,224.77 234.9,225.6C238.78,226.43 243.5,227.33 247.8,229.3C252.1,231.27 257,234.35 260.7,237.4C264.4,240.45 266.78,244.38 270,247.6C273.22,250.82 277,254.48 280,256.7C283,258.92 285.57,260.07 288,260.9C290.43,261.73 292,262.48 294.6,261.7C297.2,260.92 300.67,258.47 303.6,256.2C306.53,253.93 309.33,250.88 312.2,248.1C315.07,245.32 318.65,241.28 320.8,239.5C322.95,237.72 323.63,237.93 325.1,237.4C326.57,236.87 327.12,236.63 329.6,236.3C332.08,235.97 335.13,236.3 340,235.4C344.87,234.5 352.97,232.32 358.8,230.9C364.63,229.48 370.97,227.87 375,226.9C379.03,225.93 380.38,225.53 383,225.1C385.62,224.67 388.65,224.43 390.7,224.3C392.75,224.17 394.53,224.3 395.3,224.3" fill="none" stroke="#6b940c" stroke-width="4.5"/>
<path d="M224.5,231.2C225.52,231.33 228.15,231.62 230.6,232C233.05,232.38 235.62,232.58 239.2,233.5C242.78,234.42 248.3,235.68 252.1,237.5C255.9,239.32 259.02,242 262,244.4C264.98,246.8 267,249.32 270,251.9C273,254.48 277,257.73 280,259.9C283,262.07 285.57,263.53 288,264.9C290.43,266.27 291.93,266.72 294.6,268.1C297.27,269.48 300.1,271.62 304,273.2C307.9,274.78 313.7,276.63 318,277.6C322.3,278.57 325.87,279.53 329.8,279C333.73,278.47 336.77,278.03 341.6,274.4C346.43,270.77 353.07,263.8 358.8,257.2C364.53,250.6 371.4,240.05 376,234.8C380.6,229.55 383.95,227.45 386.4,225.7C388.85,223.95 389.22,224.53 390.7,224.3C392.18,224.07 394.53,224.3 395.3,224.3" fill="none" stroke="#6b940c" stroke-width="4.5"/>
<path d="M224.5,224.3C225.52,224.82 228.58,226.1 230.6,227.4C232.62,228.7 234.45,230.1 236.6,232.1C238.75,234.1 241.2,236.72 243.5,239.4C245.8,242.08 248.42,245.62 250.4,248.2C252.38,250.78 253.67,252.53 255.4,254.9C257.13,257.27 259.02,260.25 260.8,262.4C262.58,264.55 264.57,266.35 266.1,267.8C267.63,269.25 268.2,270.33 270,271.1C271.8,271.87 274.32,272.38 276.9,272.4C279.48,272.42 282.55,271.9 285.5,271.2C288.45,270.5 291.58,269.97 294.6,268.2C297.62,266.43 300.67,263.23 303.6,260.6C306.53,257.97 309.33,255.2 312.2,252.4C315.07,249.6 318.65,245.58 320.8,243.8C322.95,242.02 323.63,242.15 325.1,241.7C326.57,241.25 327.12,241.43 329.6,241.1C332.08,240.77 335.13,240.57 340,239.7C344.87,238.83 352.97,237 358.8,235.9C364.63,234.8 370.97,233.8 375,233.1C379.03,232.4 380.38,232.02 383,231.7C385.62,231.38 388.65,231.28 390.7,231.2C392.75,231.12 394.53,231.2 395.3,231.2" fill="none" stroke="#6b940c" stroke-width="4.5"/>
<path d="M224.5,231.2C225.8,231.63 229.85,232.28 232.3,233.8C234.75,235.32 236.9,238.07 239.2,240.3C241.5,242.53 243.67,244.57 246.1,247.2C248.53,249.83 251.35,253.32 253.8,256.1C256.25,258.88 258.75,261.72 260.8,263.9C262.85,266.08 264.57,267.57 266.1,269.2C267.63,270.83 268.2,272.65 270,273.7C271.8,274.75 274.32,275.15 276.9,275.5C279.48,275.85 282.55,276.02 285.5,275.8C288.45,275.58 291.52,273.55 294.6,274.2C297.68,274.85 300.1,277.97 304,279.7C307.9,281.43 313.7,283.43 318,284.6C322.3,285.77 325.87,286.97 329.8,286.7C333.73,286.43 336.77,286.47 341.6,283C346.43,279.53 353.07,272.78 358.8,265.9C364.53,259.02 371.4,247.95 376,241.7C380.6,235.45 383.95,231.1 386.4,228.4C388.85,225.7 389.22,225.98 390.7,225.5C392.18,225.02 394.53,225.5 395.3,225.5" fill="none" stroke="#6b940c" stroke-width="4.5"/>
<path d="M224.5,224.3C226.23,224.52 231.02,224.77 234.9,225.6C238.78,226.43 243.5,227.33 247.8,229.3C252.1,231.27 257,234.35 260.7,237.4C264.4,240.45 266.78,244.38 270,247.6C273.22,250.82 277,254.48 280,256.7C283,258.92 285.57,260.07 288,260.9C290.43,261.73 292,262.48 294.6,261.7C297.2,260.92 300.67,258.47 303.6,256.2C306.53,253.93 309.33,250.88 312.2,248.1C315.07,245.32 318.65,241.28 320.8,239.5C322.95,237.72 323.63,237.93 325.1,237.4C326.57,236.87 327.12,236.63 329.6,236.3C332.08,235.97 335.13,236.3 340,235.4C344.87,234.5 352.97,232.32 358.8,230.9C364.63,229.48 370.97,227.87 375,226.9C379.03,225.93 380.38,225.53 383,225.1C385.62,224.67 388.65,224.43 390.7,224.3C392.75,224.17 394.53,224.3 395.3,224.3" fill="none" stroke="#88ae0c" stroke-width="3.5"/>
<path d="M224.5,231.2C225.52,231.33 228.15,231.62 230.6,232C233.05,232.38 235.62,232.58 239.2,233.5C242.78,234.42 248.3,235.68 252.1,237.5C255.9,239.32 259.02,242 262,244.4C264.98,246.8 267,249.32 270,251.9C273,254.48 277,257.73 280,259.9C283,262.07 285.57,263.53 288,264.9C290.43,266.27 291.93,266.72 294.6,268.1C297.27,269.48 300.1,271.62 304,273.2C307.9,274.78 313.7,276.63 318,277.6C322.3,278.57 325.87,279.53 329.8,279C333.73,278.47 336.77,278.03 341.6,274.4C346.43,270.77 353.07,263.8 358.8,257.2C364.53,250.6 371.4,240.05 376,234.8C380.6,229.55 383.95,227.45 386.4,225.7C388.85,223.95 389.22,224.53 390.7,224.3C392.18,224.07 394.53,224.3 395.3,224.3" fill="none" stroke="#88ae0c" stroke-width="3.5"/>
<path d="M224.5,224.3C225.52,224.82 228.58,226.1 230.6,227.4C232.62,228.7 234.45,230.1 236.6,232.1C238.75,234.1 241.2,236.72 243.5,239.4C245.8,242.08 248.42,245.62 250.4,248.2C252.38,250.78 253.67,252.53 255.4,254.9C257.13,257.27 259.02,260.25 260.8,262.4C262.58,264.55 264.57,266.35 266.1,267.8C267.63,269.25 268.2,270.33 270,271.1C271.8,271.87 274.32,272.38 276.9,272.4C279.48,272.42 282.55,271.9 285.5,271.2C288.45,270.5 291.58,269.97 294.6,268.2C297.62,266.43 300.67,263.23 303.6,260.6C306.53,257.97 309.33,255.2 312.2,252.4C315.07,249.6 318.65,245.58 320.8,243.8C322.95,242.02 323.63,242.15 325.1,241.7C326.57,241.25 327.12,241.43 329.6,241.1C332.08,240.77 335.13,240.57 340,239.7C344.87,238.83 352.97,237 358.8,235.9C364.63,234.8 370.97,233.8 375,233.1C379.03,232.4 380.38,232.02 383,231.7C385.62,231.38 388.65,231.28 390.7,231.2C392.75,231.12 394.53,231.2 395.3,231.2" fill="none" stroke="#88ae0c" stroke-width="3.5"/>
<path d="M224.5,231.2C225.8,231.63 229.85,232.28 232.3,233.8C234.75,235.32 236.9,238.07 239.2,240.3C241.5,242.53 243.67,244.57 246.1,247.2C248.53,249.83 251.35,253.32 253.8,256.1C256.25,258.88 258.75,261.72 260.8,263.9C262.85,266.08 264.57,267.57 266.1,269.2C267.63,270.83 268.2,272.65 270,273.7C271.8,274.75 274.32,275.15 276.9,275.5C279.48,275.85 282.55,276.02 285.5,275.8C288.45,275.58 291.52,273.55 294.6,274.2C297.68,274.85 300.1,277.97 304,279.7C307.9,281.43 313.7,283.43 318,284.6C322.3,285.77 325.87,286.97 329.8,286.7C333.73,286.43 336.77,286.47 341.6,283C346.43,279.53 353.07,272.78 358.8,265.9C364.53,259.02 371.4,247.95 376,241.7C380.6,235.45 383.95,231.1 386.4,228.4C388.85,225.7 389.22,225.98 390.7,225.5C392.18,225.02 394.53,225.5 395.3,225.5" fill="none" stroke="#88ae0c" stroke-width="3.5"/>
<path d="M224.5,224.3C226.23,224.52 231.02,224.77 234.9,225.6C238.78,226.43 243.5,227.33 247.8,229.3C252.1,231.27 257,234.35 260.7,237.4C264.4,240.45 266.78,244.38 270,247.6C273.22,250.82 277,254.48 280,256.7C283,258.92 285.57,260.07 288,260.9C290.43,261.73 292,262.48 294.6,261.7C297.2,260.92 300.67,258.47 303.6,256.2C306.53,253.93 309.33,250.88 312.2,248.1C315.07,245.32 318.65,241.28 320.8,239.5C322.95,237.72 323.63,237.93 325.1,237.4C326.57,236.87 327.12,236.63 329.6,236.3C332.08,235.97 335.13,236.3 340,235.4C344.87,234.5 352.97,232.32 358.8,230.9C364.63,229.48 370.97,227.87 375,226.9C379.03,225.93 380.38,225.53 383,225.1C385.62,224.67 388.65,224.43 390.7,224.3C392.75,224.17 394.53,224.3 395.3,224.3" fill="none" stroke="#202a00" stroke-width="0.85"/>
<path d="M224.5,231.2C225.52,231.33 228.15,231.62 230.6,232C233.05,232.38 235.62,232.58 239.2,233.5C242.78,234.42 248.3,235.68 252.1,237.5C255.9,239.32 259.02,242 262,244.4C264.98,246.8 267,249.32 270,251.9C273,254.48 277,257.73 280,259.9C283,262.07 285.57,263.53 288,264.9C290.43,266.27 291.93,266.72 294.6,268.1C297.27,269.48 300.1,271.62 304,273.2C307.9,274.78 313.7,276.63 318,277.6C322.3,278.57 325.87,279.53 329.8,279C333.73,278.47 336.77,278.03 341.6,274.4C346.43,270.77 353.07,263.8 358.8,257.2C364.53,250.6 371.4,240.05 376,234.8C380.6,229.55 383.95,227.45 386.4,225.7C388.85,223.95 389.22,224.53 390.7,224.3C392.18,224.07 394.53,224.3 395.3,224.3" fill="none" stroke="#202a00" stroke-width="0.85"/>
<path d="M224.5,224.3C225.52,224.82 228.58,226.1 230.6,227.4C232.62,228.7 234.45,230.1 236.6,232.1C238.75,234.1 241.2,236.72 243.5,239.4C245.8,242.08 248.42,245.62 250.4,248.2C252.38,250.78 253.67,252.53 255.4,254.9C257.13,257.27 259.02,260.25 260.8,262.4C262.58,264.55 264.57,266.35 266.1,267.8C267.63,269.25 268.2,270.33 270,271.1C271.8,271.87 274.32,272.38 276.9,272.4C279.48,272.42 282.55,271.9 285.5,271.2C288.45,270.5 291.58,269.97 294.6,268.2C297.62,266.43 300.67,263.23 303.6,260.6C306.53,257.97 309.33,255.2 312.2,252.4C315.07,249.6 318.65,245.58 320.8,243.8C322.95,242.02 323.63,242.15 325.1,241.7C326.57,241.25 327.12,241.43 329.6,241.1C332.08,240.77 335.13,240.57 340,239.7C344.87,238.83 352.97,237 358.8,235.9C364.63,234.8 370.97,233.8 375,233.1C379.03,232.4 380.38,232.02 383,231.7C385.62,231.38 388.65,231.28 390.7,231.2C392.75,231.12 394.53,231.2 395.3,231.2" fill="none" stroke="#202a00" stroke-width="0.85"/>
<path d="M224.5,231.2C225.8,231.63 229.85,232.28 232.3,233.8C234.75,235.32 236.9,238.07 239.2,240.3C241.5,242.53 243.67,244.57 246.1,247.2C248.53,249.83 251.35,253.32 253.8,256.1C256.25,258.88 258.75,261.72 260.8,263.9C262.85,266.08 264.57,267.57 266.1,269.2C267.63,270.83 268.2,272.65 270,273.7C271.8,274.75 274.32,275.15 276.9,275.5C279.48,275.85 282.55,276.02 285.5,275.8C288.45,275.58 291.52,273.55 294.6,274.2C297.68,274.85 300.1,277.97 304,279.7C307.9,281.43 313.7,283.43 318,284.6C322.3,285.77 325.87,286.97 329.8,286.7C333.73,286.43 336.77,286.47 341.6,283C346.43,279.53 353.07,272.78 358.8,265.9C364.53,259.02 371.4,247.95 376,241.7C380.6,235.45 383.95,231.1 386.4,228.4C388.85,225.7 389.22,225.98 390.7,225.5C392.18,225.02 394.53,225.5 395.3,225.5" fill="none" stroke="#202a00" stroke-width="0.85"/>
<path d="M260.4,152.9C260.65,153.5 256.22,143.47 261.9,156.5C267.58,169.53 288.32,217.45 294.5,231.1C300.68,244.75 297.48,236.13 299,238.4C300.52,240.67 302.12,242.7 303.6,244.7C305.08,246.7 306.47,248.83 307.9,250.4C309.33,251.97 310.05,252.63 312.2,254.1C314.35,255.57 317.93,257.97 320.8,259.2C323.67,260.43 327.08,260.62 329.4,261.5C331.72,262.38 332.93,262.85 334.7,264.5C336.47,266.15 338.28,268.88 340,271.4C341.72,273.92 343.25,276.93 345,279.6C346.75,282.27 348.92,284.93 350.5,287.4C352.08,289.87 353.83,293.23 354.5,294.4" fill="none" stroke="#062c66" stroke-width="3.7"/>
<path d="M260.3,294.4C260.47,294.08 258.35,297.97 261.3,292.5C264.25,287.03 272.47,271.83 278,261.6C283.53,251.37 291.07,237.18 294.5,231.1C297.93,225.02 297.2,227.1 298.6,225.1C300,223.1 301.47,220.95 302.9,219.1C304.33,217.25 305.77,215.5 307.2,214C308.63,212.5 310.07,211.18 311.5,210.1C312.93,209.02 314.37,208.17 315.8,207.5C317.23,206.83 318.67,206.45 320.1,206.1C321.53,205.75 322.85,205.62 324.4,205.4C325.95,205.18 327.97,205.22 329.4,204.8C330.83,204.38 331.73,204.3 333,202.9C334.27,201.5 335.67,199.15 337,196.4C338.33,193.65 339.67,189.73 341,186.4C342.33,183.07 343.67,179.73 345,176.4C346.33,173.07 347.58,169.72 349,166.4C350.42,163.08 352.58,158.58 353.5,156.5C354.42,154.42 354.33,154.33 354.5,153.9" fill="none" stroke="#062c66" stroke-width="3.7"/>
<path d="M222,283.9C222.42,283.98 223.33,284.13 224.5,284.4C225.67,284.67 227.58,284.92 229,285.5C230.42,286.08 231.75,287.05 233,287.9C234.25,288.75 235.5,289.8 236.5,290.6C237.5,291.4 238.42,292.15 239,292.7C239.58,293.25 239.83,293.7 240,293.9" fill="none" stroke="#062c66" stroke-width="3.7"/>
<path d="M373,293.9C373.25,293.67 373.67,293.27 374.5,292.5C375.33,291.73 376.58,290.3 378,289.3C379.42,288.3 381.5,287.18 383,286.5C384.5,285.82 385.72,285.5 387,285.2C388.28,284.9 389.03,284.78 390.7,284.7C392.37,284.62 395.95,284.7 397,284.7" fill="none" stroke="#062c66" stroke-width="3.7"/>
<line x1="294.5" y1="156.5" x2="294.5" y2="292.5" stroke="#3b3bff" stroke-width="1.1"/>
<line x1="329.7" y1="156.5" x2="329.7" y2="292.5" stroke="#9a9aff" stroke-width="1"/>
<line x1="390.6" y1="156.5" x2="390.6" y2="292.5" stroke="#6a6aff" stroke-width="1"/>
</g>
<line x1="224.5" y1="156.5" x2="224.5" y2="292.5" stroke="#555" stroke-width="1"/>
<line x1="224.5" y1="292.5" x2="395.3" y2="292.5" stroke="#666" stroke-width="1"/>
<line x1="395.3" y1="156.5" x2="395.3" y2="292.5" stroke="#aaa" stroke-width="0.8"/>
<line x1="224.5" y1="156.5" x2="395.3" y2="156.5" stroke="#ccc" stroke-width="0.8"/>
<line x1="222.5" y1="170.1" x2="224.5" y2="170.1" stroke="#555" stroke-width="0.6"/>
<text class="t" x="221.5" y="172.2" font-size="6" text-anchor="end" fill="#222" >4</text>
<line x1="222.5" y1="197.3" x2="224.5" y2="197.3" stroke="#555" stroke-width="0.6"/>
<text class="t" x="221.5" y="199.4" font-size="6" text-anchor="end" fill="#222" >2</text>
<line x1="222.5" y1="224.5" x2="224.5" y2="224.5" stroke="#555" stroke-width="0.6"/>
<text class="t" x="221.5" y="226.6" font-size="6" text-anchor="end" fill="#222" >0</text>
<line x1="222.5" y1="251.7" x2="224.5" y2="251.7" stroke="#555" stroke-width="0.6"/>
<text class="t" x="221.5" y="253.8" font-size="6" text-anchor="end" fill="#222" >&#8722;2</text>
<line x1="222.5" y1="278.9" x2="224.5" y2="278.9" stroke="#555" stroke-width="0.6"/>
<text class="t" x="221.5" y="281" font-size="6" text-anchor="end" fill="#222" >&#8722;4</text>
<line x1="224.5" y1="292.5" x2="224.5" y2="294.5" stroke="#555" stroke-width="0.6"/>
<text class="t" x="224.5" y="300" font-size="5.5" text-anchor="middle" fill="#222" >&#915;</text>
<line x1="294.5" y1="292.5" x2="294.5" y2="294.5" stroke="#555" stroke-width="0.6"/>
<text class="t" x="294.5" y="300" font-size="5.5" text-anchor="middle" fill="#222" >K</text>
<line x1="329.7" y1="292.5" x2="329.7" y2="294.5" stroke="#555" stroke-width="0.6"/>
<text class="t" x="329.7" y="300" font-size="5.5" text-anchor="middle" fill="#222" >M</text>
<text class="t" x="390.6" y="300" font-size="5.5" text-anchor="middle" fill="#222" >&#915;</text>
<text class="t" x="395.3" y="300" font-size="5.5" text-anchor="middle" fill="#222" >A</text>
<text transform="translate(208.6,224.5) rotate(-90)" font-size="7" text-anchor="middle" fill="#222"><tspan font-style="italic">E</tspan> &#8722; <tspan font-style="italic">E</tspan><tspan font-size="4.8" dy="1.5" font-style="italic">F</tspan><tspan dy="-1.5"> (eV)</tspan></text>
<rect x="202" y="316.1" width="196.5" height="147.4" fill="#f0f0f0"/>
<rect x="224.5" y="317.5" width="170.8" height="136" fill="#fff"/>
<g clip-path="url(#clip39)">
<line x1="224.5" y1="385.5" x2="395.3" y2="385.5" stroke="#3a9a20" stroke-width="1" stroke-dasharray="1 1.6"/>
<path d="M222,330.4C222.42,330.4 223.17,330.53 224.5,330.4C225.83,330.27 228.08,330.13 230,329.6C231.92,329.07 234,328.28 236,327.2C238,326.12 239.95,324.72 242,323.1C244.05,321.48 246.97,318.7 248.3,317.5C249.63,316.3 249.72,316.17 250,315.9" fill="none" stroke="#b8142f" stroke-width="4.2" stroke-linecap="round"/>
<path d="M222,330.4C222.42,330.4 223.17,330.53 224.5,330.4C225.83,330.27 228.08,330.13 230,329.6C231.92,329.07 234,328.28 236,327.2C238,326.12 239.95,324.72 242,323.1C244.05,321.48 246.97,318.7 248.3,317.5C249.63,316.3 249.72,316.17 250,315.9" fill="none" stroke="#500010" stroke-width="0.7"/>
<path d="M364,315.9C364.33,316.17 364.67,316.47 366,317.5C367.33,318.53 370,320.68 372,322.1C374,323.52 376.08,324.88 378,326C379.92,327.12 381.67,328.1 383.5,328.8C385.33,329.5 386.75,329.93 389,330.2C391.25,330.47 395.67,330.37 397,330.4" fill="none" stroke="#b8142f" stroke-width="4.2" stroke-linecap="round"/>
<path d="M364,315.9C364.33,316.17 364.67,316.47 366,317.5C367.33,318.53 370,320.68 372,322.1C374,323.52 376.08,324.88 378,326C379.92,327.12 381.67,328.1 383.5,328.8C385.33,329.5 386.75,329.93 389,330.2C391.25,330.47 395.67,330.37 397,330.4" fill="none" stroke="#500010" stroke-width="0.7"/>
<path d="M224.5,385.3C226.23,385.52 231.02,385.77 234.9,386.6C238.78,387.43 243.5,388.33 247.8,390.3C252.1,392.27 257,395.35 260.7,398.4C264.4,401.45 266.78,405.38 270,408.6C273.22,411.82 277,415.48 280,417.7C283,419.92 285.57,421.07 288,421.9C290.43,422.73 292,423.48 294.6,422.7C297.2,421.92 300.67,419.47 303.6,417.2C306.53,414.93 309.33,411.88 312.2,409.1C315.07,406.32 318.65,402.28 320.8,400.5C322.95,398.72 323.63,398.93 325.1,398.4C326.57,397.87 327.12,397.63 329.6,397.3C332.08,396.97 335.13,397.3 340,396.4C344.87,395.5 352.97,393.32 358.8,391.9C364.63,390.48 370.97,388.87 375,387.9C379.03,386.93 380.38,386.53 383,386.1C385.62,385.67 388.65,385.43 390.7,385.3C392.75,385.17 394.53,385.3 395.3,385.3" fill="none" stroke="#6b940c" stroke-width="4.5"/>
<path d="M224.5,392.2C225.52,392.33 228.15,392.62 230.6,393C233.05,393.38 235.62,393.58 239.2,394.5C242.78,395.42 248.3,396.68 252.1,398.5C255.9,400.32 259.02,403 262,405.4C264.98,407.8 267,410.32 270,412.9C273,415.48 277,418.73 280,420.9C283,423.07 285.57,424.53 288,425.9C290.43,427.27 291.93,427.72 294.6,429.1C297.27,430.48 300.1,432.62 304,434.2C307.9,435.78 313.7,437.63 318,438.6C322.3,439.57 325.87,440.53 329.8,440C333.73,439.47 336.77,439.03 341.6,435.4C346.43,431.77 353.07,424.8 358.8,418.2C364.53,411.6 371.4,401.05 376,395.8C380.6,390.55 383.95,388.45 386.4,386.7C388.85,384.95 389.22,385.53 390.7,385.3C392.18,385.07 394.53,385.3 395.3,385.3" fill="none" stroke="#6b940c" stroke-width="4.5"/>
<path d="M224.5,385.3C225.52,385.82 228.58,387.1 230.6,388.4C232.62,389.7 234.45,391.1 236.6,393.1C238.75,395.1 241.2,397.72 243.5,400.4C245.8,403.08 248.42,406.62 250.4,409.2C252.38,411.78 253.67,413.53 255.4,415.9C257.13,418.27 259.02,421.25 260.8,423.4C262.58,425.55 264.57,427.35 266.1,428.8C267.63,430.25 268.2,431.33 270,432.1C271.8,432.87 274.32,433.38 276.9,433.4C279.48,433.42 282.55,432.9 285.5,432.2C288.45,431.5 291.58,430.97 294.6,429.2C297.62,427.43 300.67,424.23 303.6,421.6C306.53,418.97 309.33,416.2 312.2,413.4C315.07,410.6 318.65,406.58 320.8,404.8C322.95,403.02 323.63,403.15 325.1,402.7C326.57,402.25 327.12,402.43 329.6,402.1C332.08,401.77 335.13,401.57 340,400.7C344.87,399.83 352.97,398 358.8,396.9C364.63,395.8 370.97,394.8 375,394.1C379.03,393.4 380.38,393.02 383,392.7C385.62,392.38 388.65,392.28 390.7,392.2C392.75,392.12 394.53,392.2 395.3,392.2" fill="none" stroke="#6b940c" stroke-width="4.5"/>
<path d="M224.5,392.2C225.8,392.63 229.85,393.28 232.3,394.8C234.75,396.32 236.9,399.07 239.2,401.3C241.5,403.53 243.67,405.57 246.1,408.2C248.53,410.83 251.35,414.32 253.8,417.1C256.25,419.88 258.75,422.72 260.8,424.9C262.85,427.08 264.57,428.57 266.1,430.2C267.63,431.83 268.2,433.65 270,434.7C271.8,435.75 274.32,436.15 276.9,436.5C279.48,436.85 282.55,437.02 285.5,436.8C288.45,436.58 291.52,434.55 294.6,435.2C297.68,435.85 300.1,438.97 304,440.7C307.9,442.43 313.7,444.43 318,445.6C322.3,446.77 325.87,447.97 329.8,447.7C333.73,447.43 336.77,447.47 341.6,444C346.43,440.53 353.07,433.78 358.8,426.9C364.53,420.02 371.4,408.95 376,402.7C380.6,396.45 383.95,392.1 386.4,389.4C388.85,386.7 389.22,386.98 390.7,386.5C392.18,386.02 394.53,386.5 395.3,386.5" fill="none" stroke="#6b940c" stroke-width="4.5"/>
<path d="M224.5,385.3C226.23,385.52 231.02,385.77 234.9,386.6C238.78,387.43 243.5,388.33 247.8,390.3C252.1,392.27 257,395.35 260.7,398.4C264.4,401.45 266.78,405.38 270,408.6C273.22,411.82 277,415.48 280,417.7C283,419.92 285.57,421.07 288,421.9C290.43,422.73 292,423.48 294.6,422.7C297.2,421.92 300.67,419.47 303.6,417.2C306.53,414.93 309.33,411.88 312.2,409.1C315.07,406.32 318.65,402.28 320.8,400.5C322.95,398.72 323.63,398.93 325.1,398.4C326.57,397.87 327.12,397.63 329.6,397.3C332.08,396.97 335.13,397.3 340,396.4C344.87,395.5 352.97,393.32 358.8,391.9C364.63,390.48 370.97,388.87 375,387.9C379.03,386.93 380.38,386.53 383,386.1C385.62,385.67 388.65,385.43 390.7,385.3C392.75,385.17 394.53,385.3 395.3,385.3" fill="none" stroke="#88ae0c" stroke-width="3.5"/>
<path d="M224.5,392.2C225.52,392.33 228.15,392.62 230.6,393C233.05,393.38 235.62,393.58 239.2,394.5C242.78,395.42 248.3,396.68 252.1,398.5C255.9,400.32 259.02,403 262,405.4C264.98,407.8 267,410.32 270,412.9C273,415.48 277,418.73 280,420.9C283,423.07 285.57,424.53 288,425.9C290.43,427.27 291.93,427.72 294.6,429.1C297.27,430.48 300.1,432.62 304,434.2C307.9,435.78 313.7,437.63 318,438.6C322.3,439.57 325.87,440.53 329.8,440C333.73,439.47 336.77,439.03 341.6,435.4C346.43,431.77 353.07,424.8 358.8,418.2C364.53,411.6 371.4,401.05 376,395.8C380.6,390.55 383.95,388.45 386.4,386.7C388.85,384.95 389.22,385.53 390.7,385.3C392.18,385.07 394.53,385.3 395.3,385.3" fill="none" stroke="#88ae0c" stroke-width="3.5"/>
<path d="M224.5,385.3C225.52,385.82 228.58,387.1 230.6,388.4C232.62,389.7 234.45,391.1 236.6,393.1C238.75,395.1 241.2,397.72 243.5,400.4C245.8,403.08 248.42,406.62 250.4,409.2C252.38,411.78 253.67,413.53 255.4,415.9C257.13,418.27 259.02,421.25 260.8,423.4C262.58,425.55 264.57,427.35 266.1,428.8C267.63,430.25 268.2,431.33 270,432.1C271.8,432.87 274.32,433.38 276.9,433.4C279.48,433.42 282.55,432.9 285.5,432.2C288.45,431.5 291.58,430.97 294.6,429.2C297.62,427.43 300.67,424.23 303.6,421.6C306.53,418.97 309.33,416.2 312.2,413.4C315.07,410.6 318.65,406.58 320.8,404.8C322.95,403.02 323.63,403.15 325.1,402.7C326.57,402.25 327.12,402.43 329.6,402.1C332.08,401.77 335.13,401.57 340,400.7C344.87,399.83 352.97,398 358.8,396.9C364.63,395.8 370.97,394.8 375,394.1C379.03,393.4 380.38,393.02 383,392.7C385.62,392.38 388.65,392.28 390.7,392.2C392.75,392.12 394.53,392.2 395.3,392.2" fill="none" stroke="#88ae0c" stroke-width="3.5"/>
<path d="M224.5,392.2C225.8,392.63 229.85,393.28 232.3,394.8C234.75,396.32 236.9,399.07 239.2,401.3C241.5,403.53 243.67,405.57 246.1,408.2C248.53,410.83 251.35,414.32 253.8,417.1C256.25,419.88 258.75,422.72 260.8,424.9C262.85,427.08 264.57,428.57 266.1,430.2C267.63,431.83 268.2,433.65 270,434.7C271.8,435.75 274.32,436.15 276.9,436.5C279.48,436.85 282.55,437.02 285.5,436.8C288.45,436.58 291.52,434.55 294.6,435.2C297.68,435.85 300.1,438.97 304,440.7C307.9,442.43 313.7,444.43 318,445.6C322.3,446.77 325.87,447.97 329.8,447.7C333.73,447.43 336.77,447.47 341.6,444C346.43,440.53 353.07,433.78 358.8,426.9C364.53,420.02 371.4,408.95 376,402.7C380.6,396.45 383.95,392.1 386.4,389.4C388.85,386.7 389.22,386.98 390.7,386.5C392.18,386.02 394.53,386.5 395.3,386.5" fill="none" stroke="#88ae0c" stroke-width="3.5"/>
<path d="M224.5,385.3C226.23,385.52 231.02,385.77 234.9,386.6C238.78,387.43 243.5,388.33 247.8,390.3C252.1,392.27 257,395.35 260.7,398.4C264.4,401.45 266.78,405.38 270,408.6C273.22,411.82 277,415.48 280,417.7C283,419.92 285.57,421.07 288,421.9C290.43,422.73 292,423.48 294.6,422.7C297.2,421.92 300.67,419.47 303.6,417.2C306.53,414.93 309.33,411.88 312.2,409.1C315.07,406.32 318.65,402.28 320.8,400.5C322.95,398.72 323.63,398.93 325.1,398.4C326.57,397.87 327.12,397.63 329.6,397.3C332.08,396.97 335.13,397.3 340,396.4C344.87,395.5 352.97,393.32 358.8,391.9C364.63,390.48 370.97,388.87 375,387.9C379.03,386.93 380.38,386.53 383,386.1C385.62,385.67 388.65,385.43 390.7,385.3C392.75,385.17 394.53,385.3 395.3,385.3" fill="none" stroke="#202a00" stroke-width="0.85"/>
<path d="M224.5,392.2C225.52,392.33 228.15,392.62 230.6,393C233.05,393.38 235.62,393.58 239.2,394.5C242.78,395.42 248.3,396.68 252.1,398.5C255.9,400.32 259.02,403 262,405.4C264.98,407.8 267,410.32 270,412.9C273,415.48 277,418.73 280,420.9C283,423.07 285.57,424.53 288,425.9C290.43,427.27 291.93,427.72 294.6,429.1C297.27,430.48 300.1,432.62 304,434.2C307.9,435.78 313.7,437.63 318,438.6C322.3,439.57 325.87,440.53 329.8,440C333.73,439.47 336.77,439.03 341.6,435.4C346.43,431.77 353.07,424.8 358.8,418.2C364.53,411.6 371.4,401.05 376,395.8C380.6,390.55 383.95,388.45 386.4,386.7C388.85,384.95 389.22,385.53 390.7,385.3C392.18,385.07 394.53,385.3 395.3,385.3" fill="none" stroke="#202a00" stroke-width="0.85"/>
<path d="M224.5,385.3C225.52,385.82 228.58,387.1 230.6,388.4C232.62,389.7 234.45,391.1 236.6,393.1C238.75,395.1 241.2,397.72 243.5,400.4C245.8,403.08 248.42,406.62 250.4,409.2C252.38,411.78 253.67,413.53 255.4,415.9C257.13,418.27 259.02,421.25 260.8,423.4C262.58,425.55 264.57,427.35 266.1,428.8C267.63,430.25 268.2,431.33 270,432.1C271.8,432.87 274.32,433.38 276.9,433.4C279.48,433.42 282.55,432.9 285.5,432.2C288.45,431.5 291.58,430.97 294.6,429.2C297.62,427.43 300.67,424.23 303.6,421.6C306.53,418.97 309.33,416.2 312.2,413.4C315.07,410.6 318.65,406.58 320.8,404.8C322.95,403.02 323.63,403.15 325.1,402.7C326.57,402.25 327.12,402.43 329.6,402.1C332.08,401.77 335.13,401.57 340,400.7C344.87,399.83 352.97,398 358.8,396.9C364.63,395.8 370.97,394.8 375,394.1C379.03,393.4 380.38,393.02 383,392.7C385.62,392.38 388.65,392.28 390.7,392.2C392.75,392.12 394.53,392.2 395.3,392.2" fill="none" stroke="#202a00" stroke-width="0.85"/>
<path d="M224.5,392.2C225.8,392.63 229.85,393.28 232.3,394.8C234.75,396.32 236.9,399.07 239.2,401.3C241.5,403.53 243.67,405.57 246.1,408.2C248.53,410.83 251.35,414.32 253.8,417.1C256.25,419.88 258.75,422.72 260.8,424.9C262.85,427.08 264.57,428.57 266.1,430.2C267.63,431.83 268.2,433.65 270,434.7C271.8,435.75 274.32,436.15 276.9,436.5C279.48,436.85 282.55,437.02 285.5,436.8C288.45,436.58 291.52,434.55 294.6,435.2C297.68,435.85 300.1,438.97 304,440.7C307.9,442.43 313.7,444.43 318,445.6C322.3,446.77 325.87,447.97 329.8,447.7C333.73,447.43 336.77,447.47 341.6,444C346.43,440.53 353.07,433.78 358.8,426.9C364.53,420.02 371.4,408.95 376,402.7C380.6,396.45 383.95,392.1 386.4,389.4C388.85,386.7 389.22,386.98 390.7,386.5C392.18,386.02 394.53,386.5 395.3,386.5" fill="none" stroke="#202a00" stroke-width="0.85"/>
<path d="M260.4,313.9C260.65,314.5 256.22,304.47 261.9,317.5C267.58,330.53 288.32,378.45 294.5,392.1C300.68,405.75 297.48,397.13 299,399.4C300.52,401.67 302.12,403.7 303.6,405.7C305.08,407.7 306.47,409.83 307.9,411.4C309.33,412.97 310.05,413.63 312.2,415.1C314.35,416.57 317.93,418.97 320.8,420.2C323.67,421.43 327.08,421.62 329.4,422.5C331.72,423.38 332.93,423.85 334.7,425.5C336.47,427.15 338.28,429.88 340,432.4C341.72,434.92 343.25,437.93 345,440.6C346.75,443.27 348.92,445.93 350.5,448.4C352.08,450.87 353.83,454.23 354.5,455.4" fill="none" stroke="#062c66" stroke-width="3.7"/>
<path d="M260.3,455.4C260.47,455.08 258.35,458.97 261.3,453.5C264.25,448.03 272.47,432.83 278,422.6C283.53,412.37 291.07,398.18 294.5,392.1C297.93,386.02 297.2,388.1 298.6,386.1C300,384.1 301.47,381.95 302.9,380.1C304.33,378.25 305.77,376.5 307.2,375C308.63,373.5 310.07,372.18 311.5,371.1C312.93,370.02 314.37,369.17 315.8,368.5C317.23,367.83 318.67,367.45 320.1,367.1C321.53,366.75 322.85,366.62 324.4,366.4C325.95,366.18 327.97,366.22 329.4,365.8C330.83,365.38 331.73,365.3 333,363.9C334.27,362.5 335.67,360.15 337,357.4C338.33,354.65 339.67,350.73 341,347.4C342.33,344.07 343.67,340.73 345,337.4C346.33,334.07 347.58,330.72 349,327.4C350.42,324.08 352.58,319.58 353.5,317.5C354.42,315.42 354.33,315.33 354.5,314.9" fill="none" stroke="#062c66" stroke-width="3.7"/>
<path d="M222,444.9C222.42,444.98 223.33,445.13 224.5,445.4C225.67,445.67 227.58,445.92 229,446.5C230.42,447.08 231.75,448.05 233,448.9C234.25,449.75 235.5,450.8 236.5,451.6C237.5,452.4 238.42,453.15 239,453.7C239.58,454.25 239.83,454.7 240,454.9" fill="none" stroke="#062c66" stroke-width="3.7"/>
<path d="M373,454.9C373.25,454.67 373.67,454.27 374.5,453.5C375.33,452.73 376.58,451.3 378,450.3C379.42,449.3 381.5,448.18 383,447.5C384.5,446.82 385.72,446.5 387,446.2C388.28,445.9 389.03,445.78 390.7,445.7C392.37,445.62 395.95,445.7 397,445.7" fill="none" stroke="#062c66" stroke-width="3.7"/>
<line x1="294.5" y1="317.5" x2="294.5" y2="453.5" stroke="#3b3bff" stroke-width="1.1"/>
<line x1="329.7" y1="317.5" x2="329.7" y2="453.5" stroke="#9a9aff" stroke-width="1"/>
<line x1="390.6" y1="317.5" x2="390.6" y2="453.5" stroke="#6a6aff" stroke-width="1"/>
</g>
<line x1="224.5" y1="317.5" x2="224.5" y2="453.5" stroke="#555" stroke-width="1"/>
<line x1="224.5" y1="453.5" x2="395.3" y2="453.5" stroke="#666" stroke-width="1"/>
<line x1="395.3" y1="317.5" x2="395.3" y2="453.5" stroke="#aaa" stroke-width="0.8"/>
<line x1="224.5" y1="317.5" x2="395.3" y2="317.5" stroke="#ccc" stroke-width="0.8"/>
<line x1="222.5" y1="331.1" x2="224.5" y2="331.1" stroke="#555" stroke-width="0.6"/>
<text class="t" x="221.5" y="333.2" font-size="6" text-anchor="end" fill="#222" >4</text>
<line x1="222.5" y1="358.3" x2="224.5" y2="358.3" stroke="#555" stroke-width="0.6"/>
<text class="t" x="221.5" y="360.4" font-size="6" text-anchor="end" fill="#222" >2</text>
<line x1="222.5" y1="385.5" x2="224.5" y2="385.5" stroke="#555" stroke-width="0.6"/>
<text class="t" x="221.5" y="387.6" font-size="6" text-anchor="end" fill="#222" >0</text>
<line x1="222.5" y1="412.7" x2="224.5" y2="412.7" stroke="#555" stroke-width="0.6"/>
<text class="t" x="221.5" y="414.8" font-size="6" text-anchor="end" fill="#222" >&#8722;2</text>
<line x1="222.5" y1="439.9" x2="224.5" y2="439.9" stroke="#555" stroke-width="0.6"/>
<text class="t" x="221.5" y="442" font-size="6" text-anchor="end" fill="#222" >&#8722;4</text>
<line x1="224.5" y1="453.5" x2="224.5" y2="455.5" stroke="#555" stroke-width="0.6"/>
<text class="t" x="224.5" y="461" font-size="5.5" text-anchor="middle" fill="#222" >&#915;</text>
<line x1="294.5" y1="453.5" x2="294.5" y2="455.5" stroke="#555" stroke-width="0.6"/>
<text class="t" x="294.5" y="461" font-size="5.5" text-anchor="middle" fill="#222" >K</text>
<line x1="329.7" y1="453.5" x2="329.7" y2="455.5" stroke="#555" stroke-width="0.6"/>
<text class="t" x="329.7" y="461" font-size="5.5" text-anchor="middle" fill="#222" >M</text>
<text class="t" x="390.6" y="461" font-size="5.5" text-anchor="middle" fill="#222" >&#915;</text>
<text class="t" x="395.3" y="461" font-size="5.5" text-anchor="middle" fill="#222" >A</text>
<text transform="translate(208.6,385.5) rotate(-90)" font-size="7" text-anchor="middle" fill="#222"><tspan font-style="italic">E</tspan> &#8722; <tspan font-style="italic">E</tspan><tspan font-size="4.8" dy="1.5" font-style="italic">F</tspan><tspan dy="-1.5"> (eV)</tspan></text>
<rect x="403" y="0" width="198.5" height="146.8" fill="#f0f0f0"/>
<rect x="433.5" y="2.8" width="165.5" height="134" fill="#fff" stroke="#a8a8a8" stroke-width="1.2"/>
<line x1="431.5" y1="2.8" x2="433.5" y2="2.8" stroke="#777" stroke-width="0.6"/>
<text class="t" x="430.5" y="4.9" font-size="6" text-anchor="end" fill="#333" >&#8722;0.30</text>
<line x1="431.5" y1="19.55" x2="433.5" y2="19.55" stroke="#777" stroke-width="0.6"/>
<text class="t" x="430.5" y="21.65" font-size="6" text-anchor="end" fill="#333" >&#8722;0.35</text>
<line x1="431.5" y1="36.3" x2="433.5" y2="36.3" stroke="#777" stroke-width="0.6"/>
<text class="t" x="430.5" y="38.4" font-size="6" text-anchor="end" fill="#333" >&#8722;0.40</text>
<line x1="431.5" y1="53.05" x2="433.5" y2="53.05" stroke="#777" stroke-width="0.6"/>
<text class="t" x="430.5" y="55.15" font-size="6" text-anchor="end" fill="#333" >&#8722;0.45</text>
<line x1="431.5" y1="69.8" x2="433.5" y2="69.8" stroke="#777" stroke-width="0.6"/>
<text class="t" x="430.5" y="71.9" font-size="6" text-anchor="end" fill="#333" >&#8722;0.50</text>
<line x1="431.5" y1="86.55" x2="433.5" y2="86.55" stroke="#777" stroke-width="0.6"/>
<text class="t" x="430.5" y="88.65" font-size="6" text-anchor="end" fill="#333" >&#8722;0.55</text>
<line x1="431.5" y1="103.3" x2="433.5" y2="103.3" stroke="#777" stroke-width="0.6"/>
<text class="t" x="430.5" y="105.4" font-size="6" text-anchor="end" fill="#333" >&#8722;0.60</text>
<line x1="431.5" y1="120.05" x2="433.5" y2="120.05" stroke="#777" stroke-width="0.6"/>
<text class="t" x="430.5" y="122.15" font-size="6" text-anchor="end" fill="#333" >&#8722;0.65</text>
<line x1="431.5" y1="136.8" x2="433.5" y2="136.8" stroke="#777" stroke-width="0.6"/>
<text class="t" x="430.5" y="138.9" font-size="6" text-anchor="end" fill="#333" >&#8722;0.70</text>
<g clip-path="url(#clip40)">
<line x1="508.6" y1="2.8" x2="508.6" y2="136.8" stroke="#2a2aff" stroke-width="1.3"/>
<path d="M445.6,3.1 L478.3,37.4 L508.6,58.9 L522,51.5 L575,3.1" fill="none" stroke="#333" stroke-width="0.75"/>
<path d="M442.5,136.6 L480,98.3 L508.6,76.9 L523.6,84.2 L576.6,136.6" fill="none" stroke="#333" stroke-width="0.75"/>
</g>
<line x1="508.6" y1="136.8" x2="508.6" y2="138.8" stroke="#555" stroke-width="0.6"/>
<text class="t" x="508.6" y="144.3" font-size="5.5" text-anchor="middle" fill="#222" >K</text>
<text transform="translate(411.5,69.8) rotate(-90)" font-size="7" text-anchor="middle" fill="#222"><tspan font-style="italic">E</tspan> &#8722; <tspan font-style="italic">E</tspan><tspan font-size="4.8" dy="1.5" font-style="italic">F</tspan><tspan dy="-1.5"> (eV)</tspan></text>
<line x1="478.3" y1="67.4" x2="504.13" y2="60.35" stroke="#111" stroke-width="1"/>
<polygon points="507.6,59.4 504.57,61.99 503.68,58.71" fill="#111"/>
<rect x="442.5" y="63" width="35.8" height="8.7" rx="1" fill="#fff" stroke="#333" stroke-width="0.6"/>
<text class="t" x="460.4" y="69.65" font-size="6.5" text-anchor="middle" fill="#111" >&#8722;469 meV</text>
<line x1="540.7" y1="62.7" x2="512.88" y2="75.22" stroke="#111" stroke-width="1"/>
<polygon points="509.6,76.7 512.18,73.67 513.58,76.77" fill="#111"/>
<rect x="540.7" y="58.3" width="35.9" height="8.7" rx="1" fill="#fff" stroke="#333" stroke-width="0.6"/>
<text class="t" x="558.65" y="64.95" font-size="6.5" text-anchor="middle" fill="#111" >&#8722;522 meV</text>
<rect x="403" y="155.4" width="198.5" height="148.2" fill="#f0f0f0"/>
<rect x="433.5" y="159.9" width="165.5" height="133.2" fill="#fff" stroke="#a8a8a8" stroke-width="1.2"/>
<line x1="431.5" y1="159.9" x2="433.5" y2="159.9" stroke="#777" stroke-width="0.6"/>
<text class="t" x="430.5" y="162" font-size="6" text-anchor="end" fill="#333" >&#8722;0.30</text>
<line x1="431.5" y1="176.55" x2="433.5" y2="176.55" stroke="#777" stroke-width="0.6"/>
<text class="t" x="430.5" y="178.65" font-size="6" text-anchor="end" fill="#333" >&#8722;0.35</text>
<line x1="431.5" y1="193.2" x2="433.5" y2="193.2" stroke="#777" stroke-width="0.6"/>
<text class="t" x="430.5" y="195.3" font-size="6" text-anchor="end" fill="#333" >&#8722;0.40</text>
<line x1="431.5" y1="209.85" x2="433.5" y2="209.85" stroke="#777" stroke-width="0.6"/>
<text class="t" x="430.5" y="211.95" font-size="6" text-anchor="end" fill="#333" >&#8722;0.45</text>
<line x1="431.5" y1="226.5" x2="433.5" y2="226.5" stroke="#777" stroke-width="0.6"/>
<text class="t" x="430.5" y="228.6" font-size="6" text-anchor="end" fill="#333" >&#8722;0.50</text>
<line x1="431.5" y1="243.15" x2="433.5" y2="243.15" stroke="#777" stroke-width="0.6"/>
<text class="t" x="430.5" y="245.25" font-size="6" text-anchor="end" fill="#333" >&#8722;0.55</text>
<line x1="431.5" y1="259.8" x2="433.5" y2="259.8" stroke="#777" stroke-width="0.6"/>
<text class="t" x="430.5" y="261.9" font-size="6" text-anchor="end" fill="#333" >&#8722;0.60</text>
<line x1="431.5" y1="276.45" x2="433.5" y2="276.45" stroke="#777" stroke-width="0.6"/>
<text class="t" x="430.5" y="278.55" font-size="6" text-anchor="end" fill="#333" >&#8722;0.65</text>
<line x1="431.5" y1="293.1" x2="433.5" y2="293.1" stroke="#777" stroke-width="0.6"/>
<text class="t" x="430.5" y="295.2" font-size="6" text-anchor="end" fill="#333" >&#8722;0.70</text>
<g clip-path="url(#clip41)">
<line x1="511.8" y1="159.9" x2="511.8" y2="293.1" stroke="#2a2aff" stroke-width="1.3"/>
<path d="M456.7,159.9 L583.3,293.1" fill="none" stroke="#333" stroke-width="0.75"/>
<path d="M566.7,159.9 L441.7,293.1" fill="none" stroke="#333" stroke-width="0.75"/>
</g>
<line x1="511.8" y1="293.1" x2="511.8" y2="295.1" stroke="#555" stroke-width="0.6"/>
<text class="t" x="511.8" y="300.6" font-size="5.5" text-anchor="middle" fill="#222" >K</text>
<text transform="translate(411.5,226.5) rotate(-90)" font-size="7" text-anchor="middle" fill="#222"><tspan font-style="italic">E</tspan> &#8722; <tspan font-style="italic">E</tspan><tspan font-size="4.8" dy="1.5" font-style="italic">F</tspan><tspan dy="-1.5"> (eV)</tspan></text>
<line x1="541" y1="216.5" x2="516.59" y2="218.07" stroke="#111" stroke-width="1"/>
<polygon points="513,218.3 516.48,216.37 516.7,219.77" fill="#111"/>
<rect x="541" y="212.3" width="35.7" height="8.4" rx="1" fill="#fff" stroke="#333" stroke-width="0.6"/>
<text class="t" x="558.85" y="218.8" font-size="6.5" text-anchor="middle" fill="#111" >&#8722;475 meV</text>
<rect x="403" y="316.1" width="198.5" height="147.4" fill="#f0f0f0"/>
<rect x="433.5" y="319.8" width="165.5" height="133.2" fill="#fff" stroke="#a8a8a8" stroke-width="1.2"/>
<line x1="431.5" y1="319.8" x2="433.5" y2="319.8" stroke="#777" stroke-width="0.6"/>
<text class="t" x="430.5" y="321.9" font-size="6" text-anchor="end" fill="#333" >&#8722;0.30</text>
<line x1="431.5" y1="336.45" x2="433.5" y2="336.45" stroke="#777" stroke-width="0.6"/>
<text class="t" x="430.5" y="338.55" font-size="6" text-anchor="end" fill="#333" >&#8722;0.35</text>
<line x1="431.5" y1="353.1" x2="433.5" y2="353.1" stroke="#777" stroke-width="0.6"/>
<text class="t" x="430.5" y="355.2" font-size="6" text-anchor="end" fill="#333" >&#8722;0.40</text>
<line x1="431.5" y1="369.75" x2="433.5" y2="369.75" stroke="#777" stroke-width="0.6"/>
<text class="t" x="430.5" y="371.85" font-size="6" text-anchor="end" fill="#333" >&#8722;0.45</text>
<line x1="431.5" y1="386.4" x2="433.5" y2="386.4" stroke="#777" stroke-width="0.6"/>
<text class="t" x="430.5" y="388.5" font-size="6" text-anchor="end" fill="#333" >&#8722;0.50</text>
<line x1="431.5" y1="403.05" x2="433.5" y2="403.05" stroke="#777" stroke-width="0.6"/>
<text class="t" x="430.5" y="405.15" font-size="6" text-anchor="end" fill="#333" >&#8722;0.55</text>
<line x1="431.5" y1="419.7" x2="433.5" y2="419.7" stroke="#777" stroke-width="0.6"/>
<text class="t" x="430.5" y="421.8" font-size="6" text-anchor="end" fill="#333" >&#8722;0.60</text>
<line x1="431.5" y1="436.35" x2="433.5" y2="436.35" stroke="#777" stroke-width="0.6"/>
<text class="t" x="430.5" y="438.45" font-size="6" text-anchor="end" fill="#333" >&#8722;0.65</text>
<line x1="431.5" y1="453" x2="433.5" y2="453" stroke="#777" stroke-width="0.6"/>
<text class="t" x="430.5" y="455.1" font-size="6" text-anchor="end" fill="#333" >&#8722;0.70</text>
<g clip-path="url(#clip42)">
<line x1="508.8" y1="319.8" x2="508.8" y2="453" stroke="#2a2aff" stroke-width="1.3"/>
<path d="M445.5,319.8 L481.6,354.9 L508.8,376.2 L522.9,368.7 L574.5,319.8" fill="none" stroke="#333" stroke-width="0.75"/>
<path d="M443.8,453 L479.9,415.1 L508.8,394.5 L522.9,402 L576.2,453" fill="none" stroke="#333" stroke-width="0.75"/>
</g>
<line x1="508.8" y1="453" x2="508.8" y2="455" stroke="#555" stroke-width="0.6"/>
<text class="t" x="508.8" y="460.5" font-size="5.5" text-anchor="middle" fill="#222" >K</text>
<text transform="translate(411.5,386.4) rotate(-90)" font-size="7" text-anchor="middle" fill="#222"><tspan font-style="italic">E</tspan> &#8722; <tspan font-style="italic">E</tspan><tspan font-size="4.8" dy="1.5" font-style="italic">F</tspan><tspan dy="-1.5"> (eV)</tspan></text>
<line x1="480.9" y1="383.3" x2="504.31" y2="377.47" stroke="#111" stroke-width="1"/>
<polygon points="507.8,376.6 504.72,379.12 503.9,375.82" fill="#111"/>
<rect x="446.2" y="379" width="34.7" height="8.6" rx="1" fill="#fff" stroke="#333" stroke-width="0.6"/>
<text class="t" x="463.55" y="385.6" font-size="6.5" text-anchor="middle" fill="#111" >&#8722;471 meV</text>
<line x1="536.7" y1="385.3" x2="513.2" y2="393.42" stroke="#111" stroke-width="1"/>
<polygon points="509.8,394.6 512.65,391.82 513.76,395.03" fill="#111"/>
<rect x="536.7" y="380.7" width="35.1" height="9.3" rx="1" fill="#fff" stroke="#333" stroke-width="0.6"/>
<text class="t" x="554.25" y="387.65" font-size="6.5" text-anchor="middle" fill="#111" >&#8722;521 meV</text>
<g clip-path="url(#clip43)">
<path d="M630.85,106.7C632.38,106.7 633.9,106.7 635.42,106.7C635.91,106.7 636.4,105.36 636.89,103.1C637.43,100.58 637.97,95.29 638.52,92C639,89.04 639.49,85.98 639.98,84.2C640.74,81.43 641.5,80.23 642.26,79.7C643.08,79.13 643.89,79.18 644.71,79.1C645.14,79.06 645.58,79.1 646.01,78.5C646.45,77.9 646.88,74.82 647.32,71C647.7,67.66 648.08,62 648.46,57.5C648.84,53 649.22,47.42 649.6,44C649.93,41.07 650.25,38 650.58,38C650.96,38 651.34,39.75 651.72,41C652.1,42.25 652.48,45.5 652.86,45.5C653.29,45.5 653.73,43.28 654.16,42.5C654.71,41.53 655.25,40.4 655.79,40.4C656.23,40.4 656.66,43.2 657.1,45.5C657.7,48.67 658.29,53.18 658.89,57.5C659.38,61.04 659.87,66.29 660.36,68.9C661.12,72.96 661.88,74.38 662.64,75.5C663.45,76.7 664.27,76.7 665.08,76.7C665.9,76.7 666.71,75 667.53,74.3C668.07,73.83 668.62,73.1 669.16,73.1C669.97,73.1 670.79,74.42 671.6,74.9C672.96,75.7 674.32,76.17 675.68,76.7C676.88,77.16 678.07,77.9 679.27,77.9C680.24,77.9 681.22,77.9 682.2,76.7C683.18,75.5 684.16,72.67 685.13,70.4C686.06,68.26 686.98,66.2 687.9,63.5C688.5,61.76 689.1,60.07 689.7,57.5C690.46,54.23 691.22,49.25 691.98,45.5C692.74,41.75 693.5,35 694.26,35C695.02,35 695.78,35.3 696.54,35.3C697.25,35.3 697.96,32.9 698.66,32.9C699.42,32.9 700.18,33.7 700.94,36.5C701.71,39.3 702.47,44.25 703.23,49.7C703.82,53.98 704.42,59.97 705.02,65C705.56,69.57 706.11,74.5 706.65,78.5C707.19,82.5 707.74,86.3 708.28,89C708.82,91.7 709.37,93.25 709.91,94.7C710.72,96.87 711.54,96.88 712.35,99.2C712.9,100.75 713.44,102.7 713.98,105.5C714.53,108.3 715.07,113.8 715.62,116C716.97,121.5 718.33,122.78 719.69,122.78C721.32,122.78 722.95,121.08 724.58,120.2C726.21,119.32 727.84,118.85 729.47,117.5C730.83,116.38 732.19,114.63 733.54,113C735.01,111.24 736.48,107.3 737.95,107.3C739.14,107.3 740.34,110.12 741.53,111.2C743.6,113.07 745.66,114.74 747.73,115.7C750.23,116.86 752.72,116.82 755.22,117.2C758.05,117.63 760.87,117.82 763.7,118.1C765.87,118.32 768.05,118.5 770.22,118.7C772.39,118.9 774.57,119.14 776.74,119.3C777.01,119.32 777.28,119.34 777.55,119.34C778.1,119.34 778.64,118.05 779.18,116.43C779.73,114.81 780.27,111.41 780.81,109.62C781.3,108.01 781.79,107.26 782.28,106.1C782.61,105.33 782.93,104.15 783.26,103.8C784.35,102.62 785.43,102.62 786.52,102.62C787.12,102.62 787.72,102.69 788.31,102.69C789.35,102.69 790.38,102.4 791.41,102.35C792.5,102.31 793.58,102.35 794.67,102.08C795.49,101.88 796.3,100.77 797.12,99.59C797.93,98.41 798.75,96.53 799.56,95" fill="none" stroke="#1a1a1a" stroke-width="1.9" stroke-linejoin="round"/>
<path d="M630.85,126.5C633.84,126.44 636.83,126.49 639.82,126.2C641.45,126.04 643.08,125.1 644.71,124.7C646.34,124.3 647.97,123.8 649.6,123.8C651.23,123.8 652.86,123.9 654.49,124.1C656.12,124.3 657.75,124.74 659.38,125C661.55,125.35 663.73,125.78 665.9,125.9C671.33,126.2 676.77,126.15 682.2,126.2C693.07,126.3 703.93,126.5 714.8,126.5C735.72,126.5 756.64,126.5 777.55,126.5C778.1,126.5 778.64,125.15 779.18,123.5C779.73,121.85 780.27,118.42 780.81,116.6C781.63,113.87 782.44,111.71 783.26,110.6C784.35,109.12 785.43,109.3 786.52,109.1C788.15,108.81 789.78,108.86 791.41,108.8C794.13,108.7 796.84,108.6 799.56,108.5" fill="none" stroke="#d03a4a" stroke-width="1.3" stroke-linejoin="round"/>
<path d="M630.85,107.9C632.92,108.01 634.98,107.91 637.05,108.5C638.52,108.92 639.98,111.52 641.45,112.7C642.97,113.93 644.49,114.97 646.01,115.7C646.99,116.17 647.97,116.6 648.95,116.6C649.71,116.6 650.47,115.7 651.23,115.7C652.04,115.7 652.86,117.5 653.67,117.5C654.65,117.5 655.63,114.27 656.61,113.6C657.8,112.79 659,113.08 660.19,112.7C661.01,112.44 661.82,111.96 662.64,111.5C663.73,110.88 664.81,110.33 665.9,109.4C666.55,108.84 667.2,107.3 667.86,107.3C668.56,107.3 669.27,109.78 669.97,110.9C670.79,112.19 671.6,113.57 672.42,114.5C674.16,116.48 675.9,117.65 677.64,118.7C679.65,119.91 681.66,120.42 683.67,121.1C686.17,121.95 688.67,122.56 691.16,123.2C694.15,123.97 697.14,124.73 700.13,125.3C702.19,125.69 704.26,126.2 706.32,126.2C708.33,126.2 710.34,125.41 712.35,125C713.82,124.7 715.29,124.55 716.76,124.1C717.73,123.8 718.71,123.37 719.69,122.9C721.32,122.12 722.95,121.1 724.58,120.2C726.21,119.3 727.84,118.85 729.47,117.5C730.83,116.38 732.19,114.63 733.54,113C735.01,111.24 736.48,107.3 737.95,107.3C739.14,107.3 740.34,110.12 741.53,111.2C743.6,113.07 745.66,114.74 747.73,115.7C750.23,116.86 752.72,116.82 755.22,117.2C758.05,117.63 760.87,117.82 763.7,118.1C765.87,118.32 768.05,118.5 770.22,118.7C772.39,118.9 774.57,119.14 776.74,119.3C778.59,119.43 780.43,119.46 782.28,119.6C784.29,119.75 786.3,120.2 788.31,120.2C790.43,120.2 792.55,120.2 794.67,119.9C795.49,119.78 796.3,118.65 797.12,117.5C797.93,116.35 798.75,114.5 799.56,113" fill="none" stroke="#2e5c9e" stroke-width="1.4" stroke-linejoin="round"/>
<path d="M630.85,126.5C632.38,126.46 633.9,126.5 635.42,125.9C636.07,125.64 636.72,122.25 637.38,119C637.92,116.29 638.46,111.75 639,108.5C639.82,103.62 640.63,97.9 641.45,95C642.26,92.1 643.08,91.96 643.89,91.1C644.71,90.24 645.52,90.92 646.34,89C646.88,87.72 647.43,86.32 647.97,81.5C648.35,78.12 648.73,71.25 649.11,66.5C649.49,61.75 649.87,53 650.25,53C650.69,53 651.12,53.85 651.56,54.5C652.1,55.31 652.64,57.5 653.19,57.5C653.73,57.5 654.27,55.1 654.82,55.1C655.25,55.1 655.69,55.1 656.12,55.4C656.55,55.7 656.99,57.96 657.42,60.5C657.91,63.36 658.4,68.55 658.89,71.9C659.6,76.74 660.3,81.32 661.01,84.5C661.82,88.17 662.64,90.36 663.45,92C664.6,94.3 665.74,95.3 666.88,95.3C667.91,95.3 668.94,94.23 669.97,93.5C671.06,92.73 672.15,91.57 673.23,90.8C675.25,89.37 677.26,88.93 679.27,87.2C680.52,86.13 681.77,85.08 683.01,83C683.83,81.64 684.64,79.89 685.46,77.6C686.55,74.55 687.63,71.02 688.72,66.5C689.53,63.11 690.35,58.24 691.16,54.5C692.2,49.77 693.23,43.36 694.26,41.3C695.13,39.56 696,39.98 696.87,39.5C697.47,39.17 698.07,38.3 698.66,38.3C699.42,38.3 700.18,39.7 700.94,41.9C701.71,44.1 702.47,46.85 703.23,51.5C703.82,55.16 704.42,61.08 705.02,65.9C705.56,70.28 706.11,75.1 706.65,79.1C707.19,83.1 707.74,87.2 708.28,89.9C708.82,92.6 709.37,93.87 709.91,95.3C710.72,97.45 711.54,97.58 712.35,100.1C712.9,101.78 713.44,104.1 713.98,107C714.53,109.9 715.07,114.36 715.62,117.5C716.1,120.32 716.59,123.37 717.08,125C717.41,126.08 717.73,126.5 718.06,126.5C745.23,126.5 772.39,126.5 799.56,126.5" fill="none" stroke="#96cc3c" stroke-width="1.3" stroke-linejoin="round"/>
<path d="M630.85,126.5C633.3,126.45 635.74,126.46 638.19,126.35C640.36,126.25 642.54,126.03 644.71,125.9C646.88,125.78 649.06,125.67 651.23,125.6C653.4,125.52 655.58,125.45 657.75,125.45C660.47,125.45 663.18,125.75 665.9,125.75C668.62,125.75 671.33,125.67 674.05,125.6C676.77,125.52 679.48,125.4 682.2,125.3C684.92,125.2 687.63,125 690.35,125C693.07,125 695.78,125.05 698.5,125.15C701.22,125.25 703.93,125.42 706.65,125.6C709.37,125.77 712.08,126.05 714.8,126.2C717.52,126.35 720.23,126.5 722.95,126.5C748.49,126.5 774.02,126.5 799.56,126.5" fill="none" stroke="#f07f26" stroke-width="1.3" stroke-linejoin="round"/>
</g>
<line x1="631.6" y1="6.5" x2="631.6" y2="126.5" stroke="#555" stroke-width="0.9"/>
<line x1="631.6" y1="6.5" x2="798.0" y2="6.5" stroke="#555" stroke-width="1"/>
<line x1="797.5" y1="6.5" x2="797.5" y2="126.5" stroke="#bbb" stroke-width="0.8"/>
<line x1="629.1" y1="126.5" x2="631.6" y2="126.5" stroke="#555" stroke-width="0.6"/>
<text class="t" x="628.1" y="128.6" font-size="6" text-anchor="end" fill="#222" >0.0</text>
<line x1="629.1" y1="111.5" x2="631.6" y2="111.5" stroke="#555" stroke-width="0.6"/>
<text class="t" x="628.1" y="113.6" font-size="6" text-anchor="end" fill="#222" >0.5</text>
<line x1="629.1" y1="96.5" x2="631.6" y2="96.5" stroke="#555" stroke-width="0.6"/>
<text class="t" x="628.1" y="98.6" font-size="6" text-anchor="end" fill="#222" >1.0</text>
<line x1="629.1" y1="81.5" x2="631.6" y2="81.5" stroke="#555" stroke-width="0.6"/>
<text class="t" x="628.1" y="83.6" font-size="6" text-anchor="end" fill="#222" >1.5</text>
<line x1="629.1" y1="66.5" x2="631.6" y2="66.5" stroke="#555" stroke-width="0.6"/>
<text class="t" x="628.1" y="68.6" font-size="6" text-anchor="end" fill="#222" >2.0</text>
<line x1="629.1" y1="51.5" x2="631.6" y2="51.5" stroke="#555" stroke-width="0.6"/>
<text class="t" x="628.1" y="53.6" font-size="6" text-anchor="end" fill="#222" >2.5</text>
<line x1="629.1" y1="36.5" x2="631.6" y2="36.5" stroke="#555" stroke-width="0.6"/>
<text class="t" x="628.1" y="38.6" font-size="6" text-anchor="end" fill="#222" >3.0</text>
<line x1="629.1" y1="21.5" x2="631.6" y2="21.5" stroke="#555" stroke-width="0.6"/>
<text class="t" x="628.1" y="23.6" font-size="6" text-anchor="end" fill="#222" >3.5</text>
<line x1="629.1" y1="6.5" x2="631.6" y2="6.5" stroke="#555" stroke-width="0.6"/>
<text class="t" x="628.1" y="8.6" font-size="6" text-anchor="end" fill="#222" >4.0</text>
<line x1="649.6" y1="126.5" x2="649.6" y2="129" stroke="#555" stroke-width="0.6"/>
<text class="t" x="649.6" y="134" font-size="6.2" text-anchor="middle" fill="#222" >&#8722;4</text>
<line x1="682.2" y1="126.5" x2="682.2" y2="129" stroke="#555" stroke-width="0.6"/>
<text class="t" x="682.2" y="134" font-size="6.2" text-anchor="middle" fill="#222" >&#8722;2</text>
<line x1="714.8" y1="126.5" x2="714.8" y2="129" stroke="#555" stroke-width="0.6"/>
<text class="t" x="714.8" y="134" font-size="6.2" text-anchor="middle" fill="#222" >0</text>
<line x1="747.4" y1="126.5" x2="747.4" y2="129" stroke="#555" stroke-width="0.6"/>
<text class="t" x="747.4" y="134" font-size="6.2" text-anchor="middle" fill="#222" >2</text>
<line x1="780" y1="126.5" x2="780" y2="129" stroke="#555" stroke-width="0.6"/>
<text class="t" x="780" y="134" font-size="6.2" text-anchor="middle" fill="#222" >4</text>
<text class="t" x="714.8" y="141.7" font-size="7.5" text-anchor="middle" fill="#222" >Energy (eV)</text>
<text transform="translate(617.2,66.5) rotate(-90)" font-size="7.5" text-anchor="middle" fill="#222">DOS (eV<tspan font-size="5" dy="-2.6">&#8722;1</tspan><tspan dy="2.6">)</tspan></text>
<rect x="759.4" y="9.5" width="35.4" height="46.5" rx="1.5" fill="#fff" stroke="#e2e2e2" stroke-width="0.6"/>
<line x1="761" y1="14.4" x2="774.2" y2="14.4" stroke="#1a1a1a" stroke-width="1.9"/>
<text transform="translate(778.7,16.9) scale(0.88,1)" font-size="7" fill="#222">Total</text>
<line x1="761" y1="23.35" x2="774.2" y2="23.35" stroke="#d03a4a" stroke-width="1.3"/>
<text transform="translate(778.7,25.85) scale(0.88,1)" font-size="7" fill="#222">H</text>
<line x1="761" y1="32.3" x2="774.2" y2="32.3" stroke="#2e5c9e" stroke-width="1.4"/>
<text transform="translate(778.7,34.8) scale(0.88,1)" font-size="7" fill="#222">C</text>
<line x1="761" y1="41.25" x2="774.2" y2="41.25" stroke="#a8d060" stroke-width="1.3"/>
<text transform="translate(778.7,43.75) scale(0.88,1)" font-size="7" fill="#222">O</text>
<line x1="761" y1="50.2" x2="774.2" y2="50.2" stroke="#f08030" stroke-width="1.3"/>
<text transform="translate(778.7,52.7) scale(0.88,1)" font-size="7" fill="#222">Mg</text>
<g clip-path="url(#clip44)">
<path d="M630.85,262.3C632.38,262.3 633.9,262.3 635.42,262.3C635.91,262.3 636.4,260.97 636.89,258.7C637.43,256.18 637.97,250.89 638.52,247.6C639,244.64 639.49,241.58 639.98,239.8C640.74,237.03 641.5,235.83 642.26,235.3C643.08,234.73 643.89,234.78 644.71,234.7C645.14,234.66 645.58,234.7 646.01,234.1C646.45,233.5 646.88,229.85 647.32,226.6C647.7,223.76 648.08,220.35 648.46,216.1C648.84,211.85 649.22,205.61 649.6,201.1C649.82,198.52 650.03,194.2 650.25,194.2C650.69,194.2 651.12,198.7 651.56,201.1C651.99,203.5 652.43,206.63 652.86,208.6C653.13,209.83 653.4,211.3 653.67,211.3C654.16,211.3 654.65,208.75 655.14,208C655.63,207.25 656.12,206.8 656.61,206.8C657.1,206.8 657.59,209.17 658.08,211.6C658.51,213.76 658.95,217.81 659.38,220.3C659.92,223.41 660.47,226.3 661.01,228.1C661.55,229.9 662.1,230.47 662.64,231.1C663.45,232.05 664.27,232.3 665.08,232.3C665.9,232.3 666.71,230.6 667.53,229.9C668.07,229.43 668.62,228.7 669.16,228.7C669.97,228.7 670.79,230.02 671.6,230.5C672.96,231.3 674.32,231.77 675.68,232.3C676.88,232.76 678.07,233.5 679.27,233.5C680.24,233.5 681.22,233.5 682.2,232.3C683.18,231.1 684.16,228.27 685.13,226C686.06,223.86 686.98,221.8 687.9,219.1C688.5,217.36 689.1,215.67 689.7,213.1C690.46,209.83 691.22,204.85 691.98,201.1C692.74,197.35 693.5,190.6 694.26,190.6C695.02,190.6 695.78,190.9 696.54,190.9C697.25,190.9 697.96,188.5 698.66,188.5C699.42,188.5 700.18,189.3 700.94,192.1C701.71,194.9 702.47,199.85 703.23,205.3C703.82,209.58 704.42,215.58 705.02,220.6C705.56,225.17 706.11,230.1 706.65,234.1C707.19,238.1 707.74,241.9 708.28,244.6C708.82,247.3 709.37,248.85 709.91,250.3C710.72,252.47 711.54,252.48 712.35,254.8C712.9,256.35 713.44,258.3 713.98,261.1C714.53,263.9 715.07,269.4 715.62,271.6C716.97,277.1 718.33,278.38 719.69,278.38C721.32,278.38 722.95,276.68 724.58,275.8C726.21,274.92 727.84,274.45 729.47,273.1C730.83,271.98 732.19,270.23 733.54,268.6C735.01,266.84 736.48,262.9 737.95,262.9C739.14,262.9 740.34,265.72 741.53,266.8C743.6,268.67 745.66,270.34 747.73,271.3C750.23,272.46 752.72,272.42 755.22,272.8C758.05,273.23 760.87,273.42 763.7,273.7C765.87,273.92 768.05,274.1 770.22,274.3C772.39,274.5 774.57,274.74 776.74,274.9C777.01,274.92 777.28,274.94 777.55,274.94C778.1,274.94 778.64,273.65 779.18,272.03C779.73,270.41 780.27,267.01 780.81,265.22C781.3,263.61 781.79,262.86 782.28,261.7C782.61,260.93 782.93,259.75 783.26,259.4C784.35,258.22 785.43,258.22 786.52,258.22C787.12,258.22 787.72,258.29 788.31,258.29C789.35,258.29 790.38,258 791.41,257.95C792.5,257.91 793.58,257.95 794.67,257.68C795.49,257.48 796.3,256.37 797.12,255.19C797.93,254.01 798.75,252.13 799.56,250.6" fill="none" stroke="#1a1a1a" stroke-width="1.9" stroke-linejoin="round"/>
<path d="M630.85,282.1C633.84,282.04 636.83,282.09 639.82,281.8C641.45,281.64 643.08,280.7 644.71,280.3C646.34,279.9 647.97,279.4 649.6,279.4C651.23,279.4 652.86,279.5 654.49,279.7C656.12,279.9 657.75,280.34 659.38,280.6C661.55,280.95 663.73,281.38 665.9,281.5C671.33,281.8 676.77,281.75 682.2,281.8C693.07,281.9 703.93,282.1 714.8,282.1C735.72,282.1 756.64,282.1 777.55,282.1C778.1,282.1 778.64,280.75 779.18,279.1C779.73,277.45 780.27,274.02 780.81,272.2C781.63,269.48 782.44,267.31 783.26,266.2C784.35,264.72 785.43,264.9 786.52,264.7C788.15,264.41 789.78,264.46 791.41,264.4C794.13,264.3 796.84,264.2 799.56,264.1" fill="none" stroke="#d03a4a" stroke-width="1.3" stroke-linejoin="round"/>
<path d="M630.85,263.5C632.92,263.61 634.98,263.51 637.05,264.1C638.52,264.52 639.98,267.12 641.45,268.3C642.97,269.53 644.49,270.57 646.01,271.3C646.99,271.77 647.97,272.2 648.95,272.2C649.71,272.2 650.47,271.9 651.23,271.9C651.77,271.9 652.32,273.3 652.86,274C653.4,274.7 653.95,276.1 654.49,276.1C655.03,276.1 655.58,274 656.12,273.1C656.93,271.75 657.75,270.4 658.56,269.5C659.11,268.9 659.65,268.63 660.19,268.3C661.01,267.8 661.82,267.56 662.64,267.1C663.73,266.48 664.81,265.93 665.9,265C666.55,264.44 667.2,262.9 667.86,262.9C668.56,262.9 669.27,265.38 669.97,266.5C670.79,267.79 671.6,269.17 672.42,270.1C674.16,272.08 675.9,273.25 677.64,274.3C679.65,275.51 681.66,276.02 683.67,276.7C686.17,277.55 688.67,278.16 691.16,278.8C694.15,279.57 697.14,280.33 700.13,280.9C702.19,281.29 704.26,281.8 706.32,281.8C708.33,281.8 710.34,281.01 712.35,280.6C713.82,280.3 715.29,280.15 716.76,279.7C717.73,279.4 718.71,278.97 719.69,278.5C721.32,277.72 722.95,276.7 724.58,275.8C726.21,274.9 727.84,274.45 729.47,273.1C730.83,271.98 732.19,270.23 733.54,268.6C735.01,266.84 736.48,262.9 737.95,262.9C739.14,262.9 740.34,265.72 741.53,266.8C743.6,268.67 745.66,270.34 747.73,271.3C750.23,272.46 752.72,272.42 755.22,272.8C758.05,273.23 760.87,273.42 763.7,273.7C765.87,273.92 768.05,274.1 770.22,274.3C772.39,274.5 774.57,274.74 776.74,274.9C778.59,275.04 780.43,275.06 782.28,275.2C784.29,275.35 786.3,275.8 788.31,275.8C790.43,275.8 792.55,275.8 794.67,275.5C795.49,275.38 796.3,274.25 797.12,273.1C797.93,271.95 798.75,270.1 799.56,268.6" fill="none" stroke="#2e5c9e" stroke-width="1.4" stroke-linejoin="round"/>
<path d="M630.85,282.1C632.38,282.06 633.9,282.1 635.42,281.5C636.07,281.24 636.72,277.85 637.38,274.6C637.92,271.89 638.46,267.35 639,264.1C639.82,259.22 640.63,253.5 641.45,250.6C642.26,247.7 643.08,247.56 643.89,246.7C644.71,245.84 645.52,246.52 646.34,244.6C646.88,243.32 647.43,241.56 647.97,237.1C648.35,233.97 648.73,228.2 649.11,223.6C649.49,219 649.87,209.5 650.25,209.5C650.58,209.5 650.9,209.5 651.23,210.1C651.66,210.9 652.1,214.59 652.53,216.1C652.91,217.42 653.29,218.8 653.67,218.8C654.38,218.8 655.09,217.9 655.79,217.9C656.45,217.9 657.1,220.35 657.75,222.1C658.18,223.27 658.62,224.23 659.05,226.3C659.71,229.4 660.36,235.35 661.01,238.6C661.82,242.66 662.64,245.71 663.45,247.6C664.6,250.25 665.74,250.9 666.88,250.9C667.91,250.9 668.94,249.83 669.97,249.1C671.06,248.33 672.15,247.17 673.23,246.4C675.25,244.97 677.26,244.53 679.27,242.8C680.52,241.73 681.77,240.68 683.01,238.6C683.83,237.24 684.64,235.49 685.46,233.2C686.55,230.15 687.63,226.62 688.72,222.1C689.53,218.71 690.35,213.84 691.16,210.1C692.2,205.37 693.23,198.96 694.26,196.9C695.13,195.16 696,195.58 696.87,195.1C697.47,194.77 698.07,193.9 698.66,193.9C699.42,193.9 700.18,195.3 700.94,197.5C701.71,199.7 702.47,202.45 703.23,207.1C703.82,210.76 704.42,216.68 705.02,221.5C705.56,225.88 706.11,230.7 706.65,234.7C707.19,238.7 707.74,242.8 708.28,245.5C708.82,248.2 709.37,249.47 709.91,250.9C710.72,253.05 711.54,253.18 712.35,255.7C712.9,257.38 713.44,259.7 713.98,262.6C714.53,265.5 715.07,269.96 715.62,273.1C716.1,275.92 716.59,278.98 717.08,280.6C717.41,281.68 717.73,282.1 718.06,282.1C745.23,282.1 772.39,282.1 799.56,282.1" fill="none" stroke="#96cc3c" stroke-width="1.3" stroke-linejoin="round"/>
<path d="M630.85,282.1C633.3,282.05 635.74,282.06 638.19,281.95C640.36,281.85 642.54,281.62 644.71,281.5C646.88,281.38 649.06,281.28 651.23,281.2C653.4,281.13 655.58,281.05 657.75,281.05C660.47,281.05 663.18,281.35 665.9,281.35C668.62,281.35 671.33,281.28 674.05,281.2C676.77,281.13 679.48,281 682.2,280.9C684.92,280.8 687.63,280.6 690.35,280.6C693.07,280.6 695.78,280.65 698.5,280.75C701.22,280.85 703.93,281.03 706.65,281.2C709.37,281.38 712.08,281.65 714.8,281.8C717.52,281.95 720.23,282.1 722.95,282.1C748.49,282.1 774.02,282.1 799.56,282.1" fill="none" stroke="#f07f26" stroke-width="1.3" stroke-linejoin="round"/>
</g>
<line x1="631.6" y1="162.1" x2="631.6" y2="282.1" stroke="#555" stroke-width="0.9"/>
<line x1="631.6" y1="162.1" x2="798.0" y2="162.1" stroke="#555" stroke-width="1"/>
<line x1="797.5" y1="162.1" x2="797.5" y2="282.1" stroke="#bbb" stroke-width="0.8"/>
<line x1="629.1" y1="282.1" x2="631.6" y2="282.1" stroke="#555" stroke-width="0.6"/>
<text class="t" x="628.1" y="284.2" font-size="6" text-anchor="end" fill="#222" >0.0</text>
<line x1="629.1" y1="267.1" x2="631.6" y2="267.1" stroke="#555" stroke-width="0.6"/>
<text class="t" x="628.1" y="269.2" font-size="6" text-anchor="end" fill="#222" >0.5</text>
<line x1="629.1" y1="252.1" x2="631.6" y2="252.1" stroke="#555" stroke-width="0.6"/>
<text class="t" x="628.1" y="254.2" font-size="6" text-anchor="end" fill="#222" >1.0</text>
<line x1="629.1" y1="237.1" x2="631.6" y2="237.1" stroke="#555" stroke-width="0.6"/>
<text class="t" x="628.1" y="239.2" font-size="6" text-anchor="end" fill="#222" >1.5</text>
<line x1="629.1" y1="222.1" x2="631.6" y2="222.1" stroke="#555" stroke-width="0.6"/>
<text class="t" x="628.1" y="224.2" font-size="6" text-anchor="end" fill="#222" >2.0</text>
<line x1="629.1" y1="207.1" x2="631.6" y2="207.1" stroke="#555" stroke-width="0.6"/>
<text class="t" x="628.1" y="209.2" font-size="6" text-anchor="end" fill="#222" >2.5</text>
<line x1="629.1" y1="192.1" x2="631.6" y2="192.1" stroke="#555" stroke-width="0.6"/>
<text class="t" x="628.1" y="194.2" font-size="6" text-anchor="end" fill="#222" >3.0</text>
<line x1="629.1" y1="177.1" x2="631.6" y2="177.1" stroke="#555" stroke-width="0.6"/>
<text class="t" x="628.1" y="179.2" font-size="6" text-anchor="end" fill="#222" >3.5</text>
<line x1="629.1" y1="162.1" x2="631.6" y2="162.1" stroke="#555" stroke-width="0.6"/>
<text class="t" x="628.1" y="164.2" font-size="6" text-anchor="end" fill="#222" >4.0</text>
<line x1="649.6" y1="282.1" x2="649.6" y2="284.6" stroke="#555" stroke-width="0.6"/>
<text class="t" x="649.6" y="289.6" font-size="6.2" text-anchor="middle" fill="#222" >&#8722;4</text>
<line x1="682.2" y1="282.1" x2="682.2" y2="284.6" stroke="#555" stroke-width="0.6"/>
<text class="t" x="682.2" y="289.6" font-size="6.2" text-anchor="middle" fill="#222" >&#8722;2</text>
<line x1="714.8" y1="282.1" x2="714.8" y2="284.6" stroke="#555" stroke-width="0.6"/>
<text class="t" x="714.8" y="289.6" font-size="6.2" text-anchor="middle" fill="#222" >0</text>
<line x1="747.4" y1="282.1" x2="747.4" y2="284.6" stroke="#555" stroke-width="0.6"/>
<text class="t" x="747.4" y="289.6" font-size="6.2" text-anchor="middle" fill="#222" >2</text>
<line x1="780" y1="282.1" x2="780" y2="284.6" stroke="#555" stroke-width="0.6"/>
<text class="t" x="780" y="289.6" font-size="6.2" text-anchor="middle" fill="#222" >4</text>
<text class="t" x="714.8" y="297.3" font-size="7.5" text-anchor="middle" fill="#222" >Energy (eV)</text>
<text transform="translate(617.2,222.1) rotate(-90)" font-size="7.5" text-anchor="middle" fill="#222">DOS (eV<tspan font-size="5" dy="-2.6">&#8722;1</tspan><tspan dy="2.6">)</tspan></text>
<rect x="759.4" y="165.1" width="35.4" height="46.5" rx="1.5" fill="#fff" stroke="#e2e2e2" stroke-width="0.6"/>
<line x1="761" y1="170" x2="774.2" y2="170" stroke="#1a1a1a" stroke-width="1.9"/>
<text transform="translate(778.7,172.5) scale(0.88,1)" font-size="7" fill="#222">Total</text>
<line x1="761" y1="178.95" x2="774.2" y2="178.95" stroke="#d03a4a" stroke-width="1.3"/>
<text transform="translate(778.7,181.45) scale(0.88,1)" font-size="7" fill="#222">H</text>
<line x1="761" y1="187.9" x2="774.2" y2="187.9" stroke="#2e5c9e" stroke-width="1.4"/>
<text transform="translate(778.7,190.4) scale(0.88,1)" font-size="7" fill="#222">C</text>
<line x1="761" y1="196.85" x2="774.2" y2="196.85" stroke="#a8d060" stroke-width="1.3"/>
<text transform="translate(778.7,199.35) scale(0.88,1)" font-size="7" fill="#222">O</text>
<line x1="761" y1="205.8" x2="774.2" y2="205.8" stroke="#f08030" stroke-width="1.3"/>
<text transform="translate(778.7,208.3) scale(0.88,1)" font-size="7" fill="#222">Mg</text>
<g clip-path="url(#clip45)">
<path d="M630.85,423.2C632.38,423.2 633.9,423.2 635.42,423.2C635.91,423.2 636.4,421.87 636.89,419.6C637.43,417.08 637.97,411.79 638.52,408.5C639,405.54 639.49,402.48 639.98,400.7C640.74,397.93 641.5,396.73 642.26,396.2C643.08,395.63 643.89,395.68 644.71,395.6C645.14,395.56 645.58,395.6 646.01,395C646.45,394.4 646.88,391.32 647.32,387.5C647.7,384.16 648.08,378.75 648.46,374C648.84,369.25 649.22,362.78 649.6,359C649.93,355.76 650.25,352.4 650.58,352.4C650.96,352.4 651.34,357.08 651.72,359C652.37,362.29 653.02,367.4 653.67,367.4C654.16,367.4 654.65,363.12 655.14,362C655.58,361 656.01,360.8 656.45,360.8C656.88,360.8 657.32,364.12 657.75,366.5C658.13,368.58 658.51,371.27 658.89,374C659.38,377.51 659.87,382.79 660.36,385.4C661.12,389.46 661.88,390.88 662.64,392C663.45,393.2 664.27,393.2 665.08,393.2C665.9,393.2 666.71,391.5 667.53,390.8C668.07,390.33 668.62,389.6 669.16,389.6C669.97,389.6 670.79,390.92 671.6,391.4C672.96,392.2 674.32,392.67 675.68,393.2C676.88,393.66 678.07,394.4 679.27,394.4C680.24,394.4 681.22,394.4 682.2,393.2C683.18,392 684.16,389.17 685.13,386.9C686.06,384.76 686.98,382.7 687.9,380C688.5,378.26 689.1,376.57 689.7,374C690.46,370.73 691.22,365.75 691.98,362C692.74,358.25 693.5,351.5 694.26,351.5C695.02,351.5 695.78,351.8 696.54,351.8C697.25,351.8 697.96,349.4 698.66,349.4C699.42,349.4 700.18,350.2 700.94,353C701.71,355.8 702.47,360.75 703.23,366.2C703.82,370.48 704.42,376.47 705.02,381.5C705.56,386.07 706.11,391 706.65,395C707.19,399 707.74,402.8 708.28,405.5C708.82,408.2 709.37,409.75 709.91,411.2C710.72,413.37 711.54,413.38 712.35,415.7C712.9,417.25 713.44,419.2 713.98,422C714.53,424.8 715.07,430.3 715.62,432.5C716.97,438 718.33,439.28 719.69,439.28C721.32,439.28 722.95,437.58 724.58,436.7C726.21,435.82 727.84,435.35 729.47,434C730.83,432.88 732.19,431.13 733.54,429.5C735.01,427.74 736.48,423.8 737.95,423.8C739.14,423.8 740.34,426.62 741.53,427.7C743.6,429.57 745.66,431.24 747.73,432.2C750.23,433.36 752.72,433.32 755.22,433.7C758.05,434.13 760.87,434.32 763.7,434.6C765.87,434.82 768.05,435 770.22,435.2C772.39,435.4 774.57,435.64 776.74,435.8C777.01,435.82 777.28,435.84 777.55,435.84C778.1,435.84 778.64,434.55 779.18,432.93C779.73,431.31 780.27,427.91 780.81,426.12C781.3,424.51 781.79,423.76 782.28,422.6C782.61,421.83 782.93,420.65 783.26,420.3C784.35,419.12 785.43,419.12 786.52,419.12C787.12,419.12 787.72,419.19 788.31,419.19C789.35,419.19 790.38,418.9 791.41,418.85C792.5,418.81 793.58,418.85 794.67,418.58C795.49,418.38 796.3,417.27 797.12,416.09C797.93,414.91 798.75,413.03 799.56,411.5" fill="none" stroke="#1a1a1a" stroke-width="1.9" stroke-linejoin="round"/>
<path d="M630.85,443C633.84,442.94 636.83,442.99 639.82,442.7C641.45,442.54 643.08,441.6 644.71,441.2C646.34,440.8 647.97,440.3 649.6,440.3C651.23,440.3 652.86,440.4 654.49,440.6C656.12,440.8 657.75,441.24 659.38,441.5C661.55,441.85 663.73,442.28 665.9,442.4C671.33,442.7 676.77,442.65 682.2,442.7C693.07,442.8 703.93,443 714.8,443C735.72,443 756.64,443 777.55,443C778.1,443 778.64,441.65 779.18,440C779.73,438.35 780.27,434.92 780.81,433.1C781.63,430.38 782.44,428.21 783.26,427.1C784.35,425.62 785.43,425.8 786.52,425.6C788.15,425.31 789.78,425.36 791.41,425.3C794.13,425.2 796.84,425.1 799.56,425" fill="none" stroke="#d03a4a" stroke-width="1.3" stroke-linejoin="round"/>
<path d="M630.85,424.4C632.92,424.51 634.98,424.41 637.05,425C638.52,425.42 639.98,428.02 641.45,429.2C642.97,430.43 644.49,431.47 646.01,432.2C646.99,432.67 647.97,433.1 648.95,433.1C649.71,433.1 650.47,432.2 651.23,432.2C652.04,432.2 652.86,434 653.67,434C654.65,434 655.63,430.77 656.61,430.1C657.8,429.29 659,429.58 660.19,429.2C661.01,428.94 661.82,428.46 662.64,428C663.73,427.38 664.81,426.83 665.9,425.9C666.55,425.34 667.2,423.8 667.86,423.8C668.56,423.8 669.27,426.28 669.97,427.4C670.79,428.69 671.6,430.07 672.42,431C674.16,432.98 675.9,434.15 677.64,435.2C679.65,436.41 681.66,436.92 683.67,437.6C686.17,438.45 688.67,439.06 691.16,439.7C694.15,440.47 697.14,441.23 700.13,441.8C702.19,442.19 704.26,442.7 706.32,442.7C708.33,442.7 710.34,441.91 712.35,441.5C713.82,441.2 715.29,441.05 716.76,440.6C717.73,440.3 718.71,439.87 719.69,439.4C721.32,438.62 722.95,437.6 724.58,436.7C726.21,435.8 727.84,435.35 729.47,434C730.83,432.88 732.19,431.13 733.54,429.5C735.01,427.74 736.48,423.8 737.95,423.8C739.14,423.8 740.34,426.62 741.53,427.7C743.6,429.57 745.66,431.24 747.73,432.2C750.23,433.36 752.72,433.32 755.22,433.7C758.05,434.13 760.87,434.32 763.7,434.6C765.87,434.82 768.05,435 770.22,435.2C772.39,435.4 774.57,435.64 776.74,435.8C778.59,435.94 780.43,435.96 782.28,436.1C784.29,436.25 786.3,436.7 788.31,436.7C790.43,436.7 792.55,436.7 794.67,436.4C795.49,436.28 796.3,435.15 797.12,434C797.93,432.85 798.75,431 799.56,429.5" fill="none" stroke="#2e5c9e" stroke-width="1.4" stroke-linejoin="round"/>
<path d="M630.85,443C632.38,442.96 633.9,443 635.42,442.4C636.07,442.14 636.72,438.75 637.38,435.5C637.92,432.79 638.46,428.25 639,425C639.82,420.12 640.63,414.4 641.45,411.5C642.26,408.6 643.08,408.46 643.89,407.6C644.71,406.74 645.52,407.42 646.34,405.5C646.88,404.22 647.43,402.82 647.97,398C648.35,394.62 648.73,387.75 649.11,383C649.49,378.25 649.87,369.5 650.25,369.5C650.69,369.5 651.12,371.35 651.56,372.5C652.26,374.36 652.97,378.8 653.67,378.8C654.38,378.8 655.09,374.9 655.79,374.9C656.34,374.9 656.88,376.07 657.42,378.5C657.91,380.69 658.4,385.3 658.89,388.4C659.6,392.88 660.3,397.82 661.01,401C661.82,404.67 662.64,406.86 663.45,408.5C664.6,410.8 665.74,411.8 666.88,411.8C667.91,411.8 668.94,410.73 669.97,410C671.06,409.23 672.15,408.07 673.23,407.3C675.25,405.87 677.26,405.43 679.27,403.7C680.52,402.63 681.77,401.58 683.01,399.5C683.83,398.14 684.64,396.39 685.46,394.1C686.55,391.05 687.63,387.52 688.72,383C689.53,379.61 690.35,374.74 691.16,371C692.2,366.27 693.23,359.86 694.26,357.8C695.13,356.06 696,356.48 696.87,356C697.47,355.67 698.07,354.8 698.66,354.8C699.42,354.8 700.18,356.2 700.94,358.4C701.71,360.6 702.47,363.35 703.23,368C703.82,371.66 704.42,377.58 705.02,382.4C705.56,386.78 706.11,391.6 706.65,395.6C707.19,399.6 707.74,403.7 708.28,406.4C708.82,409.1 709.37,410.37 709.91,411.8C710.72,413.95 711.54,414.08 712.35,416.6C712.9,418.28 713.44,420.6 713.98,423.5C714.53,426.4 715.07,430.86 715.62,434C716.1,436.82 716.59,439.88 717.08,441.5C717.41,442.58 717.73,443 718.06,443C745.23,443 772.39,443 799.56,443" fill="none" stroke="#96cc3c" stroke-width="1.3" stroke-linejoin="round"/>
<path d="M630.85,443C633.3,442.95 635.74,442.96 638.19,442.85C640.36,442.75 642.54,442.52 644.71,442.4C646.88,442.27 649.06,442.18 651.23,442.1C653.4,442.03 655.58,441.95 657.75,441.95C660.47,441.95 663.18,442.25 665.9,442.25C668.62,442.25 671.33,442.18 674.05,442.1C676.77,442.03 679.48,441.9 682.2,441.8C684.92,441.7 687.63,441.5 690.35,441.5C693.07,441.5 695.78,441.55 698.5,441.65C701.22,441.75 703.93,441.93 706.65,442.1C709.37,442.28 712.08,442.55 714.8,442.7C717.52,442.85 720.23,443 722.95,443C748.49,443 774.02,443 799.56,443" fill="none" stroke="#f07f26" stroke-width="1.3" stroke-linejoin="round"/>
</g>
<line x1="631.6" y1="323" x2="631.6" y2="443" stroke="#555" stroke-width="0.9"/>
<line x1="631.6" y1="323" x2="798.0" y2="323" stroke="#555" stroke-width="1"/>
<line x1="797.5" y1="323" x2="797.5" y2="443" stroke="#bbb" stroke-width="0.8"/>
<line x1="629.1" y1="443" x2="631.6" y2="443" stroke="#555" stroke-width="0.6"/>
<text class="t" x="628.1" y="445.1" font-size="6" text-anchor="end" fill="#222" >0.0</text>
<line x1="629.1" y1="428" x2="631.6" y2="428" stroke="#555" stroke-width="0.6"/>
<text class="t" x="628.1" y="430.1" font-size="6" text-anchor="end" fill="#222" >0.5</text>
<line x1="629.1" y1="413" x2="631.6" y2="413" stroke="#555" stroke-width="0.6"/>
<text class="t" x="628.1" y="415.1" font-size="6" text-anchor="end" fill="#222" >1.0</text>
<line x1="629.1" y1="398" x2="631.6" y2="398" stroke="#555" stroke-width="0.6"/>
<text class="t" x="628.1" y="400.1" font-size="6" text-anchor="end" fill="#222" >1.5</text>
<line x1="629.1" y1="383" x2="631.6" y2="383" stroke="#555" stroke-width="0.6"/>
<text class="t" x="628.1" y="385.1" font-size="6" text-anchor="end" fill="#222" >2.0</text>
<line x1="629.1" y1="368" x2="631.6" y2="368" stroke="#555" stroke-width="0.6"/>
<text class="t" x="628.1" y="370.1" font-size="6" text-anchor="end" fill="#222" >2.5</text>
<line x1="629.1" y1="353" x2="631.6" y2="353" stroke="#555" stroke-width="0.6"/>
<text class="t" x="628.1" y="355.1" font-size="6" text-anchor="end" fill="#222" >3.0</text>
<line x1="629.1" y1="338" x2="631.6" y2="338" stroke="#555" stroke-width="0.6"/>
<text class="t" x="628.1" y="340.1" font-size="6" text-anchor="end" fill="#222" >3.5</text>
<line x1="629.1" y1="323" x2="631.6" y2="323" stroke="#555" stroke-width="0.6"/>
<text class="t" x="628.1" y="325.1" font-size="6" text-anchor="end" fill="#222" >4.0</text>
<line x1="649.6" y1="443" x2="649.6" y2="445.5" stroke="#555" stroke-width="0.6"/>
<text class="t" x="649.6" y="450.5" font-size="6.2" text-anchor="middle" fill="#222" >&#8722;4</text>
<line x1="682.2" y1="443" x2="682.2" y2="445.5" stroke="#555" stroke-width="0.6"/>
<text class="t" x="682.2" y="450.5" font-size="6.2" text-anchor="middle" fill="#222" >&#8722;2</text>
<line x1="714.8" y1="443" x2="714.8" y2="445.5" stroke="#555" stroke-width="0.6"/>
<text class="t" x="714.8" y="450.5" font-size="6.2" text-anchor="middle" fill="#222" >0</text>
<line x1="747.4" y1="443" x2="747.4" y2="445.5" stroke="#555" stroke-width="0.6"/>
<text class="t" x="747.4" y="450.5" font-size="6.2" text-anchor="middle" fill="#222" >2</text>
<line x1="780" y1="443" x2="780" y2="445.5" stroke="#555" stroke-width="0.6"/>
<text class="t" x="780" y="450.5" font-size="6.2" text-anchor="middle" fill="#222" >4</text>
<text class="t" x="714.8" y="458.2" font-size="7.5" text-anchor="middle" fill="#222" >Energy (eV)</text>
<text transform="translate(617.2,383) rotate(-90)" font-size="7.5" text-anchor="middle" fill="#222">DOS (eV<tspan font-size="5" dy="-2.6">&#8722;1</tspan><tspan dy="2.6">)</tspan></text>
<rect x="759.4" y="326" width="35.4" height="46.5" rx="1.5" fill="#fff" stroke="#e2e2e2" stroke-width="0.6"/>
<line x1="761" y1="330.9" x2="774.2" y2="330.9" stroke="#1a1a1a" stroke-width="1.9"/>
<text transform="translate(778.7,333.4) scale(0.88,1)" font-size="7" fill="#222">Total</text>
<line x1="761" y1="339.85" x2="774.2" y2="339.85" stroke="#d03a4a" stroke-width="1.3"/>
<text transform="translate(778.7,342.35) scale(0.88,1)" font-size="7" fill="#222">H</text>
<line x1="761" y1="348.8" x2="774.2" y2="348.8" stroke="#2e5c9e" stroke-width="1.4"/>
<text transform="translate(778.7,351.3) scale(0.88,1)" font-size="7" fill="#222">C</text>
<line x1="761" y1="357.75" x2="774.2" y2="357.75" stroke="#a8d060" stroke-width="1.3"/>
<text transform="translate(778.7,360.25) scale(0.88,1)" font-size="7" fill="#222">O</text>
<line x1="761" y1="366.7" x2="774.2" y2="366.7" stroke="#f08030" stroke-width="1.3"/>
<text transform="translate(778.7,369.2) scale(0.88,1)" font-size="7" fill="#222">Mg</text>
<rect x="95.5" y="148.8" width="631.4" height="1.9" fill="#000"/>
<rect x="95.5" y="307.7" width="631.4" height="1.9" fill="#000"/>
</svg></body></html>
